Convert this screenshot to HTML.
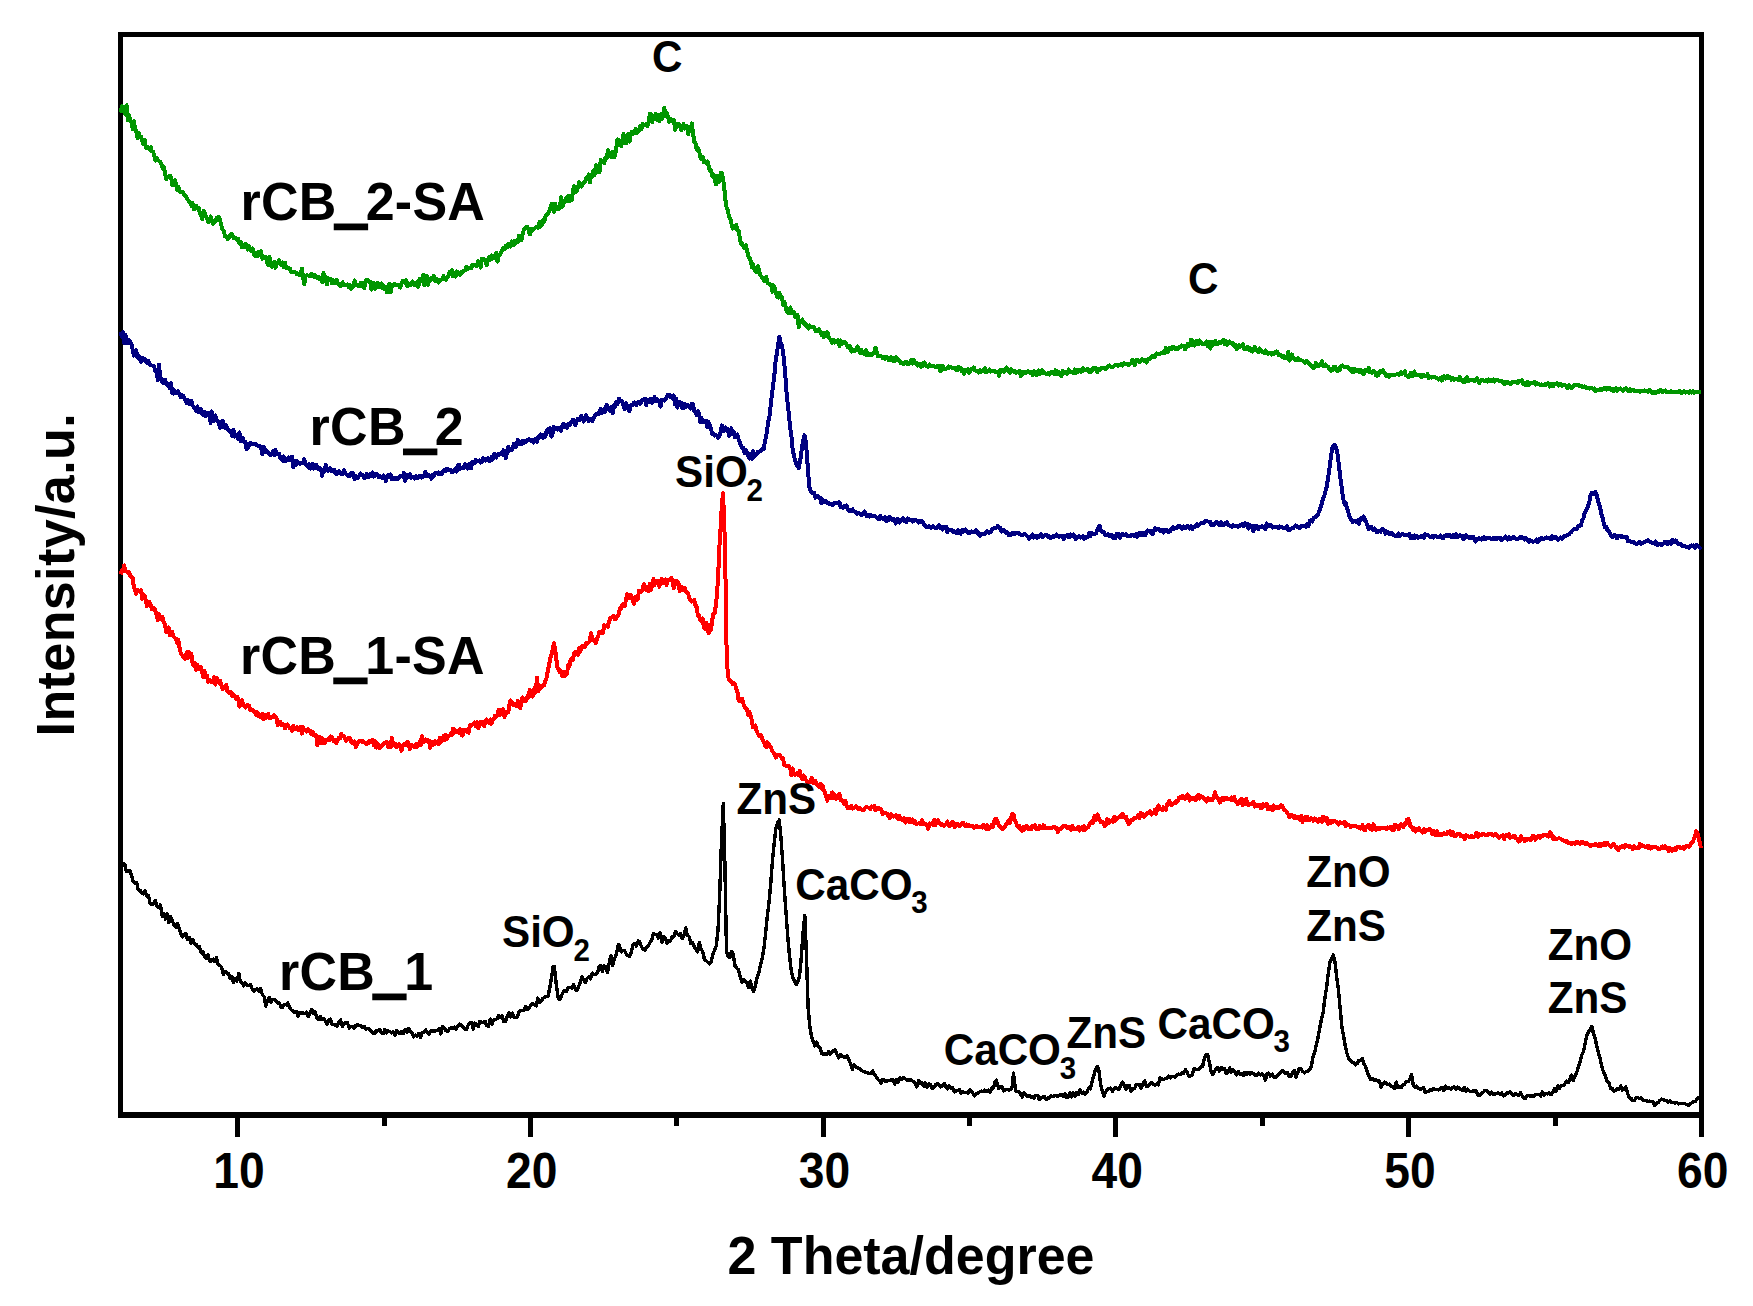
<!DOCTYPE html>
<html><head><meta charset="utf-8"><title>XRD</title>
<style>
html,body{margin:0;padding:0;background:#fff;}
svg{display:block;}
text{font-family:"Liberation Sans",sans-serif;font-weight:bold;fill:#000;}
</style></head>
<body>
<svg width="1753" height="1306" viewBox="0 0 1753 1306">
<rect x="0" y="0" width="1753" height="1306" fill="#fff"/>
<g id="frame" stroke="#000" stroke-width="5" fill="none" shape-rendering="crispEdges">
<path d="M118,32H1704V1118H118Z M123,37V1112H1699V37Z" fill="#000" fill-rule="evenodd" stroke="none"/>
<rect x="235" y="1115" width="5" height="22" fill="#000" stroke="none"/>
<rect x="382" y="1115" width="5" height="11" fill="#000" stroke="none"/>
<rect x="528" y="1115" width="5" height="22" fill="#000" stroke="none"/>
<rect x="674" y="1115" width="5" height="11" fill="#000" stroke="none"/>
<rect x="821" y="1115" width="5" height="22" fill="#000" stroke="none"/>
<rect x="967" y="1115" width="5" height="11" fill="#000" stroke="none"/>
<rect x="1113" y="1115" width="5" height="22" fill="#000" stroke="none"/>
<rect x="1260" y="1115" width="5" height="11" fill="#000" stroke="none"/>
<rect x="1406" y="1115" width="5" height="22" fill="#000" stroke="none"/>
<rect x="1553" y="1115" width="5" height="11" fill="#000" stroke="none"/>
<rect x="1699" y="1115" width="5" height="22" fill="#000" stroke="none"/>
</g>
<g id="curves">
<path d="M121.3,861.6 L123.0,865.5 L124.7,864.1 L126.4,871.4 L128.1,870.9 L129.8,870.3 L131.5,875.4 L133.2,881.3 L134.9,883.4 L136.6,882.3 L138.3,889.9 L140.0,890.1 L141.7,892.8 L143.4,893.8 L145.1,891.1 L146.8,896.4 L148.5,895.9 L150.2,904.0 L151.9,904.0 L153.6,904.0 L155.3,900.3 L157.0,906.2 L158.7,907.5 L160.4,904.9 L162.1,916.0 L163.8,913.5 L165.5,919.1 L167.2,913.8 L168.9,922.7 L170.6,916.6 L172.3,920.2 L174.0,925.7 L175.7,927.0 L177.4,923.4 L179.1,928.1 L180.8,933.4 L182.5,936.8 L184.2,934.2 L185.9,934.0 L187.6,939.5 L189.3,937.4 L191.0,943.3 L192.7,939.5 L194.4,943.7 L196.1,944.3 L197.8,947.4 L199.5,946.9 L201.2,952.9 L202.9,951.3 L204.6,956.5 L206.3,958.7 L208.0,954.5 L209.7,961.2 L211.4,961.2 L213.1,959.2 L214.8,961.5 L216.5,957.5 L218.2,964.5 L219.9,965.5 L221.6,967.1 L223.3,974.5 L225.0,971.4 L226.7,973.0 L228.4,973.4 L230.1,978.1 L231.8,976.6 L233.5,982.5 L235.2,978.5 L236.9,981.0 L238.9,973.2 L240.3,981.8 L242.0,982.6 L243.7,985.8 L245.4,983.0 L247.1,985.8 L248.8,985.4 L250.5,984.6 L252.2,989.1 L253.9,991.4 L255.6,989.5 L257.3,988.9 L259.0,991.2 L260.7,988.4 L262.4,995.0 L264.1,996.5 L265.8,1006.1 L267.5,1000.3 L269.2,997.5 L270.9,1002.3 L272.6,999.3 L274.3,999.5 L276.0,1001.3 L277.7,1002.9 L279.4,1003.0 L281.1,1007.5 L282.8,1007.0 L284.5,1004.4 L286.2,1004.9 L287.9,1003.1 L289.6,1007.3 L291.3,1009.8 L293.0,1011.1 L294.7,1012.5 L296.4,1011.8 L298.1,1016.0 L299.8,1012.5 L301.5,1013.4 L303.2,1013.0 L304.9,1013.5 L306.6,1012.2 L308.3,1016.6 L310.0,1013.2 L311.7,1009.4 L313.4,1013.0 L315.1,1011.7 L316.8,1017.6 L318.5,1019.5 L320.2,1016.4 L321.9,1019.6 L323.6,1018.6 L325.3,1020.8 L327.0,1024.3 L328.7,1020.5 L330.4,1019.2 L332.1,1024.1 L333.8,1024.4 L335.5,1025.1 L337.2,1026.0 L338.9,1022.5 L340.6,1019.9 L342.3,1026.6 L344.0,1023.6 L345.7,1022.2 L347.4,1022.7 L349.1,1027.9 L350.8,1026.2 L352.5,1026.8 L354.2,1028.3 L355.9,1025.4 L357.6,1024.8 L359.3,1025.7 L361.0,1025.5 L362.7,1027.6 L364.4,1026.7 L366.1,1029.0 L367.8,1028.2 L369.5,1029.4 L371.2,1031.3 L372.9,1033.2 L374.6,1033.7 L376.3,1030.7 L378.0,1030.9 L379.7,1029.3 L381.4,1032.5 L383.1,1033.6 L384.8,1029.5 L386.5,1032.8 L388.2,1030.9 L389.9,1031.7 L391.6,1032.9 L393.3,1032.0 L395.0,1035.2 L396.7,1030.6 L398.4,1032.7 L400.1,1033.7 L401.8,1031.3 L403.5,1033.7 L405.2,1029.3 L406.9,1032.1 L408.6,1028.4 L410.3,1031.4 L412.0,1033.1 L413.7,1037.0 L415.4,1035.0 L417.1,1036.4 L418.8,1033.5 L420.5,1037.6 L422.2,1032.5 L423.9,1032.3 L425.6,1029.9 L427.3,1032.9 L429.0,1034.5 L430.7,1030.8 L432.4,1031.1 L434.1,1030.8 L435.8,1030.9 L437.5,1030.2 L439.2,1028.4 L440.9,1033.9 L442.6,1026.4 L444.3,1028.3 L446.0,1030.7 L447.7,1031.7 L449.4,1028.8 L451.1,1028.1 L452.8,1028.3 L454.5,1027.2 L456.2,1029.1 L457.9,1025.7 L459.6,1024.2 L461.3,1025.3 L463.0,1026.5 L464.7,1028.9 L466.4,1029.7 L468.1,1025.4 L469.8,1022.9 L471.5,1022.3 L473.2,1029.2 L474.9,1023.1 L476.6,1024.3 L478.3,1026.7 L480.0,1021.2 L481.7,1022.6 L483.4,1022.1 L485.1,1021.3 L486.8,1025.7 L488.5,1026.6 L490.2,1019.1 L491.9,1024.0 L493.6,1020.1 L495.3,1019.7 L497.0,1018.8 L498.7,1015.3 L500.4,1017.3 L502.1,1015.6 L503.8,1021.7 L505.5,1021.6 L507.2,1016.2 L508.9,1012.6 L510.6,1016.9 L512.3,1013.2 L514.0,1017.3 L515.7,1017.6 L517.4,1016.8 L519.1,1012.0 L520.8,1010.5 L522.5,1010.4 L524.2,1010.0 L525.9,1006.4 L527.6,1009.5 L529.3,1007.4 L531.0,1005.0 L532.7,1003.3 L534.4,1004.8 L536.1,1005.9 L537.8,998.1 L539.5,1002.7 L541.2,1001.2 L542.9,998.3 L544.6,997.2 L546.3,996.3 L548.0,996.6 L549.7,988.3 L551.4,978.6 L553.1,966.9 L554.4,966.7 L556.5,986.1 L558.2,997.7 L559.9,999.8 L561.6,995.3 L563.3,991.7 L565.0,990.5 L566.7,991.3 L568.4,987.4 L570.1,987.3 L571.8,988.0 L573.5,984.8 L575.2,988.9 L576.9,990.6 L578.6,986.6 L580.3,982.3 L582.0,976.5 L583.7,979.7 L585.4,982.3 L587.1,978.4 L588.8,976.8 L590.5,979.1 L592.2,973.1 L593.9,974.8 L595.6,974.4 L597.3,973.3 L599.0,967.1 L600.7,965.5 L602.4,971.7 L604.1,965.8 L605.8,967.0 L607.5,972.7 L609.2,963.0 L610.9,955.8 L612.6,965.5 L614.3,959.1 L616.0,955.4 L618.5,944.3 L619.4,945.5 L621.1,951.9 L622.8,950.4 L624.5,950.7 L626.2,953.9 L627.9,955.5 L629.6,956.4 L631.3,952.5 L633.0,945.2 L634.7,943.3 L636.4,946.2 L638.1,941.1 L639.8,941.9 L641.5,947.0 L643.2,949.1 L644.9,950.1 L646.6,946.9 L648.3,946.2 L650.0,942.4 L651.7,940.7 L653.4,933.3 L655.1,934.3 L656.8,934.9 L658.5,938.1 L660.2,932.7 L661.9,942.4 L663.6,936.3 L665.3,938.5 L667.0,943.5 L668.7,940.3 L670.4,941.1 L672.1,937.0 L673.8,937.0 L675.5,931.4 L677.2,933.9 L678.9,935.1 L680.6,933.3 L682.3,938.6 L684.0,935.5 L685.7,927.9 L687.4,935.4 L689.1,936.5 L690.8,943.5 L692.5,942.9 L694.2,946.7 L695.9,948.7 L697.6,951.9 L699.3,942.5 L701.0,948.5 L702.7,951.9 L704.4,959.1 L706.1,960.7 L707.8,962.3 L709.5,963.9 L711.2,961.8 L712.9,954.5 L714.6,949.9 L716.3,945.9 L718.0,930.2 L719.7,894.3 L721.4,843.7 L723.3,803.3 L724.8,860.4 L726.5,952.0 L728.2,956.4 L729.9,957.4 L731.6,951.3 L733.3,954.5 L735.0,965.8 L736.7,968.2 L738.4,969.8 L740.1,976.2 L741.8,982.2 L743.5,979.5 L745.2,980.7 L746.9,982.7 L748.6,987.3 L750.3,981.2 L752.0,988.0 L753.7,991.7 L755.4,985.3 L757.1,977.8 L758.8,972.8 L760.5,964.9 L762.2,958.0 L763.9,948.5 L765.6,933.4 L767.3,916.4 L769.0,902.2 L770.7,884.4 L772.4,861.3 L774.1,843.7 L775.8,829.0 L777.5,823.1 L779.2,820.0 L780.9,837.0 L782.6,860.6 L784.3,888.9 L786.0,912.5 L787.7,936.1 L789.4,954.6 L791.1,969.7 L792.8,977.4 L794.5,981.0 L796.2,984.7 L797.9,981.5 L799.6,975.7 L801.3,957.3 L803.0,933.2 L804.8,915.2 L806.4,954.3 L808.1,1007.3 L809.8,1026.0 L811.5,1036.1 L813.2,1041.6 L814.9,1045.9 L816.6,1042.2 L818.3,1046.7 L820.0,1047.5 L821.7,1053.6 L823.4,1054.4 L825.1,1053.5 L826.8,1054.5 L828.5,1051.8 L830.2,1053.9 L831.9,1051.7 L833.6,1050.5 L835.3,1049.7 L837.0,1054.7 L838.7,1058.0 L840.4,1054.7 L842.1,1056.1 L843.8,1057.0 L845.5,1057.6 L847.2,1055.9 L848.9,1060.0 L850.6,1063.8 L852.3,1069.4 L854.0,1065.1 L855.7,1066.6 L857.4,1067.8 L859.1,1068.4 L860.8,1070.2 L862.5,1071.1 L864.2,1071.6 L865.9,1072.7 L867.6,1072.9 L869.3,1073.8 L871.0,1073.5 L872.7,1070.9 L874.4,1074.8 L876.1,1076.5 L877.8,1079.3 L879.5,1080.8 L881.2,1083.1 L882.9,1079.3 L884.6,1080.7 L886.3,1081.6 L888.0,1080.2 L889.7,1080.5 L891.4,1080.0 L893.1,1079.6 L894.8,1084.1 L896.5,1079.7 L898.2,1082.1 L899.9,1077.8 L901.6,1079.4 L903.3,1077.3 L905.0,1078.4 L906.7,1080.2 L908.4,1080.1 L910.1,1079.6 L911.8,1080.7 L913.5,1081.5 L915.2,1082.7 L916.9,1086.9 L918.6,1080.4 L920.3,1083.2 L922.0,1082.5 L923.7,1086.3 L925.4,1082.9 L927.1,1086.9 L928.8,1084.0 L930.5,1084.4 L932.2,1088.7 L933.9,1087.9 L935.6,1084.7 L937.3,1083.3 L939.0,1084.6 L940.7,1086.8 L942.4,1085.4 L944.1,1083.4 L945.8,1086.7 L947.5,1088.9 L949.2,1085.6 L950.9,1088.2 L952.6,1087.9 L954.3,1091.8 L956.0,1091.1 L957.7,1090.7 L959.4,1089.5 L961.1,1093.3 L962.8,1091.8 L964.5,1092.6 L966.2,1092.2 L967.9,1093.2 L969.6,1089.9 L971.3,1091.5 L973.0,1093.5 L974.7,1095.9 L976.4,1093.7 L978.1,1093.0 L979.8,1091.7 L981.5,1091.2 L983.2,1091.5 L984.9,1090.1 L986.6,1091.2 L988.3,1090.1 L990.0,1092.3 L991.7,1087.9 L993.4,1088.0 L995.1,1082.1 L996.4,1080.2 L998.5,1088.3 L1000.2,1086.5 L1001.9,1086.4 L1003.6,1090.8 L1005.3,1090.0 L1007.0,1089.2 L1008.7,1090.1 L1010.4,1089.4 L1012.1,1087.6 L1013.5,1073.0 L1015.5,1090.8 L1017.2,1091.3 L1018.9,1091.9 L1020.6,1094.0 L1022.3,1097.1 L1024.0,1093.0 L1025.7,1095.1 L1027.4,1096.7 L1029.1,1095.5 L1030.8,1097.1 L1032.5,1096.3 L1034.2,1098.0 L1035.9,1095.2 L1037.6,1095.2 L1039.3,1099.8 L1041.0,1097.5 L1042.7,1097.2 L1044.4,1096.3 L1046.1,1099.6 L1047.8,1098.0 L1049.5,1097.9 L1051.2,1095.9 L1052.9,1096.7 L1054.6,1095.6 L1056.3,1095.8 L1058.0,1096.2 L1059.7,1095.0 L1061.4,1094.4 L1063.1,1096.7 L1064.8,1093.8 L1066.5,1097.3 L1068.2,1097.4 L1069.9,1092.7 L1071.6,1097.0 L1073.3,1092.9 L1075.0,1095.9 L1076.7,1092.6 L1078.4,1094.3 L1080.1,1089.8 L1081.8,1093.4 L1083.5,1092.1 L1085.2,1094.0 L1086.9,1092.3 L1088.6,1088.2 L1090.3,1088.9 L1092.0,1082.5 L1093.7,1075.7 L1095.4,1069.9 L1097.1,1066.3 L1098.8,1069.8 L1100.5,1083.4 L1102.2,1090.7 L1103.9,1096.2 L1105.6,1092.0 L1107.3,1089.2 L1109.0,1088.5 L1110.7,1088.1 L1112.4,1091.4 L1114.1,1088.6 L1115.8,1087.5 L1117.5,1088.9 L1119.2,1088.9 L1120.9,1084.9 L1122.6,1082.0 L1124.3,1085.8 L1126.0,1088.9 L1127.7,1085.3 L1129.4,1085.7 L1131.1,1091.3 L1132.8,1088.8 L1134.5,1088.5 L1136.2,1084.7 L1137.9,1084.5 L1139.6,1084.9 L1141.3,1088.3 L1143.0,1084.2 L1144.7,1081.0 L1146.4,1086.2 L1148.1,1086.1 L1149.8,1084.6 L1151.5,1082.3 L1153.2,1084.1 L1154.9,1085.4 L1156.6,1084.0 L1158.3,1084.8 L1160.0,1077.8 L1161.7,1078.7 L1163.4,1079.7 L1165.1,1078.5 L1166.8,1078.4 L1168.5,1076.1 L1170.2,1077.9 L1171.9,1076.4 L1173.6,1076.5 L1175.3,1077.2 L1177.0,1074.6 L1178.7,1074.2 L1180.4,1074.4 L1182.1,1072.5 L1183.8,1073.1 L1185.5,1069.7 L1187.2,1072.6 L1188.9,1076.4 L1190.6,1075.7 L1192.3,1074.8 L1194.0,1068.9 L1195.7,1069.2 L1197.4,1069.7 L1199.1,1069.4 L1200.8,1066.9 L1202.5,1066.8 L1204.2,1059.4 L1205.9,1054.5 L1207.6,1054.6 L1209.3,1061.9 L1211.0,1070.8 L1212.7,1074.5 L1214.4,1071.5 L1216.1,1069.1 L1217.8,1067.4 L1219.5,1071.1 L1221.2,1067.5 L1222.9,1069.4 L1224.6,1068.3 L1226.3,1073.7 L1228.0,1071.8 L1229.7,1067.9 L1231.4,1072.2 L1233.1,1069.9 L1234.8,1072.0 L1236.5,1074.9 L1238.2,1071.3 L1239.9,1074.4 L1241.6,1073.9 L1243.3,1075.6 L1245.0,1072.2 L1246.7,1074.6 L1248.4,1072.4 L1250.1,1074.5 L1251.8,1072.5 L1253.5,1073.8 L1255.2,1075.2 L1256.9,1075.0 L1258.6,1073.2 L1260.3,1074.9 L1262.0,1074.0 L1263.7,1075.2 L1265.4,1080.0 L1267.1,1073.7 L1268.8,1073.1 L1270.5,1076.1 L1272.2,1074.2 L1273.9,1077.4 L1275.6,1077.7 L1277.3,1075.4 L1279.0,1073.6 L1280.7,1072.2 L1282.4,1070.8 L1284.1,1071.9 L1285.8,1073.5 L1287.5,1072.4 L1289.2,1076.6 L1290.9,1076.4 L1292.6,1072.9 L1294.3,1070.4 L1296.0,1077.2 L1297.7,1072.7 L1299.4,1068.3 L1301.1,1069.2 L1302.8,1071.5 L1304.5,1072.9 L1306.2,1071.4 L1307.9,1071.0 L1309.6,1069.5 L1311.3,1066.5 L1313.0,1056.8 L1314.7,1052.1 L1316.4,1044.7 L1318.1,1037.1 L1319.8,1027.5 L1321.5,1019.2 L1323.2,1011.8 L1324.9,998.0 L1326.6,987.4 L1328.3,973.1 L1330.0,961.4 L1331.7,958.8 L1333.4,954.9 L1335.1,962.5 L1336.8,977.9 L1338.5,990.4 L1340.2,1008.8 L1341.9,1027.3 L1343.6,1036.0 L1345.3,1046.5 L1347.0,1053.6 L1348.7,1058.3 L1350.4,1060.0 L1352.1,1062.6 L1353.8,1063.0 L1355.5,1064.8 L1357.2,1063.6 L1358.9,1060.3 L1360.6,1060.8 L1362.3,1058.4 L1364.0,1064.2 L1365.7,1066.6 L1367.4,1072.3 L1369.1,1076.4 L1370.8,1079.5 L1372.5,1078.7 L1374.2,1080.8 L1375.9,1079.8 L1377.6,1081.2 L1379.3,1080.9 L1381.0,1087.0 L1382.7,1084.5 L1384.4,1082.1 L1386.1,1083.3 L1387.8,1084.7 L1389.5,1084.0 L1391.2,1086.6 L1392.9,1086.8 L1394.6,1088.6 L1396.3,1082.2 L1398.0,1087.8 L1399.7,1086.6 L1401.4,1087.5 L1403.1,1084.6 L1404.8,1084.0 L1406.5,1081.4 L1408.2,1081.6 L1409.9,1079.0 L1411.6,1074.5 L1413.3,1084.9 L1415.0,1087.5 L1416.7,1086.2 L1418.4,1088.1 L1420.1,1089.1 L1421.8,1088.7 L1423.5,1087.5 L1425.2,1092.4 L1426.9,1091.3 L1428.6,1091.2 L1430.3,1089.4 L1432.0,1090.3 L1433.7,1088.7 L1435.4,1089.3 L1437.1,1089.4 L1438.8,1089.9 L1440.5,1087.9 L1442.2,1087.4 L1443.9,1090.6 L1445.6,1086.1 L1447.3,1088.6 L1449.0,1087.9 L1450.7,1089.2 L1452.4,1087.6 L1454.1,1086.9 L1455.8,1089.1 L1457.5,1087.0 L1459.2,1087.8 L1460.9,1089.7 L1462.6,1090.1 L1464.3,1087.3 L1466.0,1091.5 L1467.7,1089.2 L1469.4,1091.0 L1471.1,1091.6 L1472.8,1090.9 L1474.5,1091.3 L1476.2,1090.7 L1477.9,1095.3 L1479.6,1095.8 L1481.3,1093.2 L1483.0,1092.6 L1484.7,1090.7 L1486.4,1090.4 L1488.1,1092.1 L1489.8,1094.4 L1491.5,1092.2 L1493.2,1094.3 L1494.9,1093.9 L1496.6,1093.6 L1498.3,1092.9 L1500.0,1094.0 L1501.7,1092.9 L1503.4,1095.9 L1505.1,1095.1 L1506.8,1092.6 L1508.5,1092.9 L1510.2,1092.0 L1511.9,1094.5 L1513.6,1095.4 L1515.3,1093.3 L1517.0,1094.2 L1518.7,1095.6 L1520.4,1092.7 L1522.1,1095.8 L1523.8,1098.0 L1525.5,1098.2 L1527.2,1095.5 L1528.9,1095.3 L1530.6,1096.2 L1532.3,1095.7 L1534.0,1096.6 L1535.7,1094.4 L1537.4,1094.3 L1539.1,1094.2 L1540.8,1096.1 L1542.5,1091.9 L1544.2,1095.2 L1545.9,1093.4 L1547.6,1094.0 L1549.3,1092.9 L1551.0,1094.7 L1552.7,1092.8 L1554.4,1088.4 L1556.1,1091.1 L1557.8,1085.7 L1559.5,1088.5 L1561.2,1085.3 L1562.9,1085.7 L1564.6,1084.5 L1566.3,1081.2 L1568.0,1082.8 L1569.7,1080.0 L1571.4,1075.2 L1573.1,1080.8 L1574.8,1076.1 L1576.5,1073.2 L1578.2,1067.7 L1579.9,1062.1 L1581.6,1055.2 L1583.3,1052.0 L1585.0,1044.4 L1586.7,1035.7 L1588.4,1032.1 L1590.1,1029.8 L1591.8,1026.5 L1593.5,1033.5 L1595.2,1038.5 L1596.9,1046.7 L1598.6,1053.1 L1600.3,1059.2 L1602.0,1067.3 L1603.7,1072.5 L1605.4,1075.4 L1607.1,1081.4 L1608.8,1082.1 L1610.5,1088.3 L1612.2,1088.5 L1613.9,1091.0 L1615.6,1090.2 L1617.3,1088.7 L1619.0,1089.6 L1620.7,1085.8 L1622.4,1090.1 L1624.1,1089.2 L1625.8,1086.8 L1627.5,1093.1 L1629.2,1098.0 L1630.9,1098.1 L1632.6,1100.8 L1634.3,1100.7 L1636.0,1097.9 L1637.7,1097.7 L1639.4,1098.5 L1641.1,1098.1 L1642.8,1099.9 L1644.5,1100.7 L1646.2,1100.8 L1647.9,1101.5 L1649.6,1101.1 L1651.3,1101.7 L1653.0,1101.7 L1654.7,1105.4 L1656.4,1103.3 L1658.1,1102.6 L1659.8,1100.6 L1661.5,1099.0 L1663.2,1099.7 L1664.9,1100.4 L1666.6,1100.6 L1668.3,1102.2 L1670.0,1100.9 L1671.7,1102.5 L1673.4,1102.5 L1675.1,1103.1 L1676.8,1102.4 L1678.5,1103.9 L1680.2,1103.4 L1681.9,1103.8 L1683.6,1103.6 L1685.3,1103.9 L1687.0,1104.5 L1688.7,1105.3 L1690.4,1103.8 L1692.1,1102.7 L1693.8,1101.6 L1695.5,1101.3 L1697.2,1098.3 L1698.9,1097.9 L1700.6,1097.0" fill="none" stroke="#000000" stroke-width="3.4" stroke-linejoin="round" stroke-linecap="butt" shape-rendering="crispEdges"/>
<path d="M120.6,574.2 L121.8,570.9 L123.0,570.6 L124.2,565.4 L125.4,570.9 L126.6,571.4 L127.8,572.9 L129.0,572.0 L130.2,575.7 L131.4,577.3 L132.6,577.9 L133.8,586.5 L135.0,589.4 L136.2,593.8 L137.4,590.4 L138.6,590.4 L139.8,591.4 L141.0,589.9 L142.2,598.7 L143.4,594.2 L144.6,595.5 L145.8,599.8 L147.0,606.2 L148.2,604.1 L149.4,601.9 L150.6,604.2 L151.8,609.3 L153.0,608.4 L154.2,608.1 L155.4,611.0 L156.6,615.1 L157.8,620.3 L159.0,613.9 L160.2,617.7 L161.4,619.4 L162.6,617.2 L163.8,622.9 L165.0,624.2 L166.2,631.7 L167.4,629.9 L168.6,627.4 L169.8,635.1 L171.0,633.9 L172.2,631.6 L173.4,636.2 L174.6,637.7 L175.8,638.5 L177.0,642.9 L178.2,639.6 L179.4,646.9 L180.6,652.5 L181.8,654.6 L183.0,656.6 L184.2,657.2 L185.4,658.8 L186.6,652.5 L187.8,658.3 L189.0,651.8 L190.2,655.8 L191.4,654.0 L192.6,663.3 L193.8,665.6 L195.0,663.3 L196.2,669.9 L197.4,664.7 L198.6,668.1 L199.8,669.3 L201.0,667.4 L202.2,672.4 L203.4,677.4 L204.6,671.1 L205.8,677.2 L207.0,675.7 L208.2,681.7 L209.4,679.7 L210.6,681.4 L211.8,682.3 L213.0,681.4 L214.2,677.4 L215.4,684.6 L216.6,677.8 L217.8,682.0 L219.0,683.1 L220.2,680.8 L221.4,685.0 L222.6,689.4 L223.8,688.2 L225.0,687.9 L226.2,684.7 L227.4,691.0 L228.6,692.4 L229.8,693.0 L231.0,692.4 L232.2,696.1 L233.4,694.2 L234.6,695.8 L235.8,698.8 L237.0,696.5 L238.2,699.3 L239.4,706.6 L240.6,704.9 L241.8,700.3 L243.0,703.6 L244.2,705.5 L245.4,707.5 L246.6,705.3 L247.8,704.9 L249.0,705.6 L250.2,710.1 L251.4,710.5 L252.6,709.7 L253.8,711.7 L255.0,712.1 L256.2,715.2 L257.4,712.3 L258.6,716.4 L259.8,716.8 L261.0,716.4 L262.2,713.8 L263.4,719.2 L264.6,715.0 L265.8,717.9 L267.0,715.6 L268.2,713.7 L269.4,718.0 L270.6,718.0 L271.8,716.9 L273.0,717.5 L274.2,715.4 L275.4,716.4 L276.6,718.9 L277.8,724.9 L279.0,723.6 L280.2,721.7 L281.4,725.0 L282.6,723.6 L283.8,724.5 L285.0,728.4 L286.2,726.2 L287.4,724.5 L288.6,726.3 L289.8,728.5 L291.0,728.3 L292.2,730.7 L293.4,726.1 L294.6,729.2 L295.8,728.5 L297.0,727.3 L298.2,730.2 L299.4,729.7 L300.6,727.1 L301.8,733.7 L303.0,727.0 L304.2,730.2 L305.4,730.4 L306.6,731.6 L307.8,729.2 L309.0,731.0 L310.2,730.9 L311.4,734.0 L312.6,731.6 L313.8,735.1 L315.0,736.0 L316.2,735.3 L317.4,745.1 L318.6,739.4 L319.8,736.7 L321.0,743.3 L322.2,738.2 L323.4,741.6 L324.6,743.0 L325.8,739.5 L327.0,739.8 L328.2,739.3 L329.4,739.9 L330.6,736.5 L331.8,737.1 L333.0,739.2 L334.2,741.5 L335.4,740.5 L336.6,742.8 L337.8,740.4 L339.0,737.6 L340.2,738.4 L341.4,734.1 L342.6,736.3 L343.8,736.0 L345.0,739.1 L346.2,740.6 L347.4,738.5 L348.6,739.1 L349.8,737.6 L351.0,741.3 L352.2,742.7 L353.4,743.7 L354.6,741.3 L355.8,747.0 L357.0,745.1 L358.2,742.1 L359.4,740.9 L360.6,741.1 L361.8,741.9 L363.0,741.3 L364.2,742.2 L365.4,742.8 L366.6,744.1 L367.8,743.6 L369.0,740.9 L370.2,742.0 L371.4,740.3 L372.6,739.9 L373.8,745.4 L375.0,741.3 L376.2,747.6 L377.4,743.5 L378.6,745.8 L379.8,748.2 L381.0,745.5 L382.2,745.9 L383.4,744.0 L384.6,743.1 L385.8,743.3 L387.0,741.8 L388.2,746.8 L389.4,743.1 L390.6,747.4 L391.8,738.1 L393.0,744.1 L394.2,745.5 L395.4,743.8 L396.6,747.0 L397.8,746.2 L399.0,744.5 L400.2,745.9 L401.4,750.9 L402.6,745.3 L403.8,745.3 L405.0,743.6 L406.2,744.7 L407.4,741.6 L408.6,743.8 L409.8,749.4 L411.0,746.3 L412.2,745.1 L413.4,745.8 L414.6,747.2 L415.8,744.1 L417.0,747.0 L418.2,744.5 L419.4,742.3 L420.6,745.3 L421.8,736.2 L423.0,740.0 L424.2,741.9 L425.4,739.5 L426.6,741.2 L427.8,740.3 L429.0,740.4 L430.2,747.8 L431.4,743.4 L432.6,741.9 L433.8,744.6 L435.0,741.1 L436.2,743.2 L437.4,741.8 L438.6,744.4 L439.8,737.5 L441.0,742.0 L442.2,740.2 L443.4,736.3 L444.6,740.1 L445.8,734.7 L447.0,739.1 L448.2,735.9 L449.4,735.8 L450.6,734.0 L451.8,735.4 L453.0,728.7 L454.2,732.6 L455.4,730.5 L456.6,732.3 L457.8,731.3 L459.0,732.6 L460.2,729.1 L461.4,734.8 L462.6,735.6 L463.8,729.8 L465.0,730.0 L466.2,730.2 L467.4,731.9 L468.6,732.8 L469.8,725.3 L471.0,726.1 L472.2,724.6 L473.4,724.0 L474.6,722.3 L475.8,726.3 L477.0,722.4 L478.2,728.2 L479.4,726.5 L480.6,721.8 L481.8,721.5 L483.0,722.2 L484.2,726.4 L485.4,721.0 L486.6,719.3 L487.8,722.2 L489.0,722.7 L490.2,719.5 L491.4,723.9 L492.6,719.9 L493.8,719.5 L495.0,715.7 L496.2,716.7 L497.4,715.6 L498.6,709.9 L499.8,715.3 L501.0,709.8 L502.2,713.3 L503.4,709.3 L504.6,716.9 L505.8,712.4 L507.0,713.0 L508.2,712.4 L509.4,704.9 L510.6,700.4 L511.8,702.2 L513.0,705.1 L514.2,703.8 L515.4,705.6 L516.6,706.4 L517.8,701.0 L519.0,704.7 L520.2,708.1 L521.4,701.5 L522.6,697.4 L523.8,701.1 L525.0,699.9 L526.2,701.0 L527.4,696.2 L528.6,697.0 L529.8,689.8 L531.0,695.7 L532.2,696.5 L533.4,695.3 L534.6,688.0 L535.8,692.0 L537.0,677.6 L538.2,691.1 L539.4,689.7 L540.6,685.6 L541.8,687.1 L543.0,684.8 L544.2,685.0 L545.4,680.9 L546.6,677.9 L547.8,670.7 L549.0,665.5 L550.2,658.4 L551.4,655.0 L552.6,649.3 L554.0,643.1 L555.0,648.2 L556.2,657.6 L557.4,668.0 L558.6,668.7 L559.8,672.2 L561.0,671.0 L562.2,676.3 L563.4,672.2 L564.6,676.1 L565.8,671.7 L567.0,673.8 L568.2,664.8 L569.4,666.0 L570.6,660.0 L571.8,658.2 L573.0,660.0 L574.2,653.2 L575.4,652.0 L576.6,652.2 L577.8,654.8 L579.0,648.1 L580.2,652.0 L581.4,646.9 L582.6,645.9 L583.8,646.5 L585.0,647.2 L586.2,643.4 L587.4,642.5 L588.6,642.5 L589.8,640.7 L591.0,633.3 L592.2,638.6 L593.4,639.3 L594.6,641.3 L595.8,643.1 L597.0,638.6 L598.2,636.1 L599.4,631.6 L600.6,632.9 L601.8,633.2 L603.0,632.9 L604.2,625.3 L605.4,626.2 L606.6,625.7 L607.8,626.7 L609.0,621.5 L610.2,618.5 L611.4,617.3 L612.6,617.5 L613.8,615.9 L615.0,619.3 L616.2,618.6 L617.4,615.5 L618.6,614.8 L619.8,608.3 L621.0,608.6 L622.2,604.7 L623.4,604.3 L624.6,606.1 L625.8,600.9 L627.0,594.1 L628.2,598.4 L629.4,597.1 L630.6,594.8 L631.8,596.8 L633.0,601.9 L634.2,604.0 L635.4,597.2 L636.6,599.9 L637.8,598.9 L639.0,590.5 L640.2,592.1 L641.4,590.8 L642.6,590.4 L643.8,584.2 L645.0,586.9 L646.2,590.0 L647.4,589.8 L648.6,590.9 L649.8,583.9 L651.0,589.8 L652.2,585.7 L653.4,579.1 L654.6,584.8 L655.8,581.0 L657.0,583.0 L658.2,580.7 L659.4,586.9 L660.6,580.7 L661.8,578.9 L663.0,582.9 L664.2,581.2 L665.4,579.5 L666.6,584.9 L667.8,580.2 L669.0,579.9 L670.2,580.4 L671.4,578.0 L672.6,581.0 L673.8,588.4 L675.0,580.6 L676.2,583.7 L677.4,581.4 L678.6,583.8 L679.8,591.1 L681.0,590.3 L682.2,587.0 L683.4,590.4 L684.6,587.7 L685.8,591.3 L687.0,592.5 L688.2,594.0 L689.4,598.8 L690.6,600.8 L691.8,601.6 L693.0,600.9 L694.2,599.7 L695.4,605.8 L696.6,606.2 L697.8,615.2 L699.0,615.7 L700.2,620.1 L701.4,621.6 L702.6,618.4 L703.8,627.0 L705.0,628.6 L706.2,622.9 L707.4,629.3 L708.6,633.1 L709.8,624.9 L711.0,629.9 L712.2,620.4 L713.4,613.8 L714.6,613.3 L715.8,605.6 L717.0,594.6 L718.2,574.8 L719.4,546.8 L720.6,527.5 L721.8,506.2 L722.9,493.3 L724.2,518.3 L725.4,570.7 L726.6,650.0 L727.8,674.5 L729.0,680.2 L730.2,681.0 L731.4,681.8 L732.6,683.8 L733.8,682.7 L735.0,684.0 L736.2,688.8 L737.4,691.7 L738.6,700.9 L739.8,701.4 L741.0,699.4 L742.2,699.0 L743.4,703.5 L744.6,707.3 L745.8,708.3 L747.0,708.9 L748.2,715.3 L749.4,711.7 L750.6,715.2 L751.8,720.5 L753.0,727.3 L754.2,725.9 L755.4,725.4 L756.6,731.1 L757.8,733.6 L759.0,736.0 L760.2,734.9 L761.4,735.8 L762.6,739.6 L763.8,741.8 L765.0,745.3 L766.2,747.4 L767.4,742.3 L768.6,743.8 L769.8,746.1 L771.0,747.5 L772.2,750.9 L773.4,752.7 L774.6,754.0 L775.8,757.6 L777.0,755.5 L778.2,754.6 L779.4,754.6 L780.6,756.7 L781.8,758.1 L783.0,758.0 L784.2,764.7 L785.4,765.4 L786.6,765.8 L787.8,766.1 L789.0,766.0 L790.2,768.5 L791.4,775.1 L792.6,768.4 L793.8,773.3 L795.0,774.6 L796.2,773.6 L797.4,773.0 L798.6,775.3 L799.8,770.9 L801.0,776.7 L802.2,779.2 L803.4,775.4 L804.6,776.7 L805.8,779.7 L807.0,781.7 L808.2,782.8 L809.4,782.0 L810.6,780.0 L811.8,777.9 L813.0,782.6 L814.2,783.3 L815.4,781.1 L816.6,783.9 L817.8,785.0 L819.0,786.9 L820.2,783.9 L821.4,788.5 L822.6,785.5 L823.8,790.4 L825.0,792.8 L826.2,797.1 L827.4,800.7 L828.6,795.7 L829.8,796.6 L831.0,798.0 L832.2,792.4 L833.4,798.4 L834.6,794.5 L835.8,798.8 L837.0,797.8 L838.2,795.4 L839.4,794.1 L840.6,800.3 L841.8,799.8 L843.0,801.5 L844.2,803.8 L845.4,801.1 L846.6,805.9 L847.8,808.1 L849.0,808.2 L850.2,808.1 L851.4,806.1 L852.6,808.6 L853.8,807.7 L855.0,807.3 L856.2,806.2 L857.4,808.4 L858.6,809.2 L859.8,807.9 L861.0,808.9 L862.2,809.8 L863.4,810.4 L864.6,808.3 L865.8,807.5 L867.0,807.0 L868.2,807.6 L869.4,808.3 L870.6,808.8 L871.8,806.4 L873.0,807.5 L874.2,805.9 L875.4,810.0 L876.6,807.8 L877.8,809.4 L879.0,808.1 L880.2,809.3 L881.4,809.5 L882.6,814.3 L883.8,813.1 L885.0,813.3 L886.2,813.1 L887.4,814.1 L888.6,816.3 L889.8,818.4 L891.0,813.9 L892.2,815.1 L893.4,816.6 L894.6,816.3 L895.8,815.1 L897.0,817.8 L898.2,819.1 L899.4,815.7 L900.6,818.6 L901.8,819.9 L903.0,820.0 L904.2,818.1 L905.4,822.6 L906.6,820.4 L907.8,818.7 L909.0,821.8 L910.2,819.1 L911.4,822.4 L912.6,819.5 L913.8,822.8 L915.0,821.1 L916.2,823.9 L917.4,823.6 L918.6,823.3 L919.8,822.9 L921.0,824.5 L922.2,820.4 L923.4,823.8 L924.6,823.9 L925.8,824.2 L927.0,824.7 L928.2,828.9 L929.4,823.5 L930.6,824.4 L931.8,823.3 L933.0,825.2 L934.2,819.8 L935.4,825.1 L936.6,822.0 L937.8,820.2 L939.0,822.3 L940.2,823.8 L941.4,824.8 L942.6,824.5 L943.8,825.7 L945.0,824.5 L946.2,824.5 L947.4,821.5 L948.6,825.3 L949.8,826.0 L951.0,824.0 L952.2,822.0 L953.4,822.9 L954.6,827.4 L955.8,824.3 L957.0,824.4 L958.2,824.3 L959.4,826.4 L960.6,824.4 L961.8,823.9 L963.0,822.8 L964.2,824.7 L965.4,826.1 L966.6,824.4 L967.8,826.1 L969.0,825.4 L970.2,825.7 L971.4,826.0 L972.6,826.1 L973.8,827.8 L975.0,827.2 L976.2,825.8 L977.4,826.9 L978.6,826.7 L979.8,827.5 L981.0,827.2 L982.2,827.6 L983.4,825.0 L984.6,827.6 L985.8,829.0 L987.0,825.3 L988.2,829.5 L989.4,827.8 L990.6,827.1 L991.8,825.0 L993.0,826.7 L994.2,821.6 L995.4,818.9 L996.6,819.2 L997.8,822.4 L999.0,826.2 L1000.2,826.2 L1001.4,828.0 L1002.6,829.3 L1003.8,827.7 L1005.0,826.3 L1006.2,823.8 L1007.4,823.1 L1008.6,820.5 L1009.8,822.9 L1011.0,818.7 L1012.2,813.8 L1013.8,814.8 L1014.6,820.2 L1015.8,821.8 L1017.0,825.3 L1018.2,827.2 L1019.4,825.8 L1020.6,829.6 L1021.8,830.8 L1023.0,827.3 L1024.2,830.0 L1025.4,827.2 L1026.6,826.0 L1027.8,828.8 L1029.0,828.8 L1030.2,827.5 L1031.4,829.4 L1032.6,826.1 L1033.8,826.9 L1035.0,825.3 L1036.2,828.9 L1037.4,828.9 L1038.6,829.3 L1039.8,825.7 L1041.0,827.7 L1042.2,828.1 L1043.4,825.2 L1044.6,826.3 L1045.8,828.4 L1047.0,828.5 L1048.2,827.8 L1049.4,828.2 L1050.6,827.9 L1051.8,827.7 L1053.0,827.5 L1054.2,826.7 L1055.4,827.9 L1056.6,828.0 L1057.8,832.0 L1059.0,829.5 L1060.2,829.2 L1061.4,827.9 L1062.6,827.1 L1063.8,826.0 L1065.0,826.4 L1066.2,826.3 L1067.4,828.2 L1068.6,826.8 L1069.8,828.9 L1071.0,829.8 L1072.2,825.9 L1073.4,829.1 L1074.6,829.4 L1075.8,828.7 L1077.0,828.7 L1078.2,826.8 L1079.4,830.7 L1080.6,827.7 L1081.8,827.2 L1083.0,829.6 L1084.2,826.0 L1085.4,829.7 L1086.6,828.2 L1087.8,827.6 L1089.0,825.8 L1090.2,823.5 L1091.4,821.4 L1092.6,823.4 L1093.8,818.1 L1095.0,815.7 L1096.2,819.9 L1097.4,814.4 L1098.6,817.4 L1099.8,819.9 L1101.0,822.4 L1102.2,821.7 L1103.4,823.0 L1104.6,826.2 L1105.8,825.2 L1107.0,819.1 L1108.2,820.0 L1109.4,822.8 L1110.6,821.5 L1111.8,820.5 L1113.0,822.0 L1114.2,816.9 L1115.4,820.6 L1116.6,818.2 L1117.8,818.1 L1119.0,816.9 L1120.2,817.2 L1121.4,814.9 L1122.6,814.0 L1123.8,817.3 L1125.0,817.8 L1126.2,816.6 L1127.4,821.7 L1128.6,823.8 L1129.8,822.5 L1131.0,820.3 L1132.2,820.5 L1133.4,819.2 L1134.6,817.8 L1135.8,818.1 L1137.0,817.1 L1138.2,814.7 L1139.4,818.4 L1140.6,812.9 L1141.8,814.0 L1143.0,814.1 L1144.2,817.0 L1145.4,814.4 L1146.6,814.0 L1147.8,812.7 L1149.0,812.5 L1150.2,811.3 L1151.4,814.5 L1152.6,813.2 L1153.8,813.0 L1155.0,809.6 L1156.2,813.9 L1157.4,807.4 L1158.6,805.6 L1159.8,808.4 L1161.0,809.1 L1162.2,810.1 L1163.4,807.2 L1164.6,808.9 L1165.8,809.8 L1167.0,804.6 L1168.2,802.7 L1169.4,801.1 L1170.6,803.8 L1171.8,805.4 L1173.0,803.5 L1174.2,803.0 L1175.4,803.4 L1176.6,800.6 L1177.8,801.4 L1179.0,797.5 L1180.2,797.2 L1181.4,798.4 L1182.6,796.0 L1183.8,797.8 L1185.0,798.6 L1186.2,796.3 L1187.4,794.4 L1188.6,795.6 L1189.8,800.5 L1191.0,797.7 L1192.2,799.1 L1193.4,797.9 L1194.6,798.6 L1195.8,800.2 L1197.0,797.0 L1198.2,794.6 L1199.4,798.7 L1200.6,795.6 L1201.8,797.3 L1203.0,796.8 L1204.2,799.0 L1205.4,800.6 L1206.6,801.5 L1207.8,798.3 L1209.0,798.5 L1210.2,799.8 L1211.4,799.5 L1212.6,799.8 L1213.8,796.4 L1215.0,792.4 L1216.2,796.0 L1217.4,798.1 L1218.6,799.3 L1219.8,802.6 L1221.0,801.1 L1222.2,798.4 L1223.4,800.2 L1224.6,797.7 L1225.8,799.4 L1227.0,798.1 L1228.2,799.1 L1229.4,799.3 L1230.6,799.6 L1231.8,797.5 L1233.0,800.3 L1234.2,796.5 L1235.4,801.4 L1236.6,802.4 L1237.8,804.3 L1239.0,801.6 L1240.2,800.0 L1241.4,798.8 L1242.6,805.1 L1243.8,799.7 L1245.0,803.9 L1246.2,798.8 L1247.4,802.9 L1248.6,805.4 L1249.8,804.2 L1251.0,803.8 L1252.2,802.8 L1253.4,801.8 L1254.6,806.5 L1255.8,805.9 L1257.0,805.3 L1258.2,806.3 L1259.4,804.8 L1260.6,808.4 L1261.8,808.5 L1263.0,804.2 L1264.2,804.8 L1265.4,806.0 L1266.6,804.0 L1267.8,809.2 L1269.0,809.1 L1270.2,807.0 L1271.4,809.5 L1272.6,810.4 L1273.8,805.5 L1275.0,808.4 L1276.2,807.0 L1277.4,806.7 L1278.6,808.1 L1279.8,806.5 L1281.0,805.4 L1282.2,805.8 L1283.4,808.5 L1284.6,810.0 L1285.8,810.7 L1287.0,812.3 L1288.2,814.3 L1289.4,817.1 L1290.6,816.3 L1291.8,814.7 L1293.0,815.8 L1294.2,818.5 L1295.4,816.2 L1296.6,817.0 L1297.8,818.0 L1299.0,816.8 L1300.2,820.3 L1301.4,816.1 L1302.6,821.8 L1303.8,818.9 L1305.0,817.5 L1306.2,819.8 L1307.4,816.7 L1308.6,820.0 L1309.8,820.2 L1311.0,818.3 L1312.2,818.6 L1313.4,820.7 L1314.6,818.4 L1315.8,819.5 L1317.0,820.1 L1318.2,822.0 L1319.4,819.1 L1320.6,820.0 L1321.8,821.8 L1323.0,816.5 L1324.2,820.0 L1325.4,817.7 L1326.6,818.0 L1327.8,823.8 L1329.0,821.4 L1330.2,823.4 L1331.4,821.0 L1332.6,822.3 L1333.8,821.0 L1335.0,821.0 L1336.2,821.8 L1337.4,822.3 L1338.6,824.5 L1339.8,822.1 L1341.0,823.1 L1342.2,822.6 L1343.4,823.6 L1344.6,821.9 L1345.8,825.9 L1347.0,824.0 L1348.2,825.2 L1349.4,825.2 L1350.6,826.9 L1351.8,826.2 L1353.0,825.5 L1354.2,825.7 L1355.4,826.0 L1356.6,826.6 L1357.8,826.5 L1359.0,827.9 L1360.2,828.6 L1361.4,827.5 L1362.6,825.1 L1363.8,829.7 L1365.0,830.5 L1366.2,826.9 L1367.4,826.9 L1368.6,824.6 L1369.8,828.5 L1371.0,826.0 L1372.2,830.0 L1373.4,824.2 L1374.6,828.0 L1375.8,829.8 L1377.0,827.8 L1378.2,827.5 L1379.4,829.1 L1380.6,828.1 L1381.8,828.2 L1383.0,828.5 L1384.2,827.6 L1385.4,827.9 L1386.6,829.2 L1387.8,827.4 L1389.0,828.3 L1390.2,827.2 L1391.4,829.6 L1392.6,826.7 L1393.8,830.0 L1395.0,824.6 L1396.2,827.3 L1397.4,825.8 L1398.6,828.8 L1399.8,827.2 L1401.0,824.3 L1402.2,824.8 L1403.4,826.9 L1404.6,823.9 L1405.8,823.8 L1407.0,819.8 L1408.2,818.7 L1409.4,821.3 L1410.6,826.8 L1411.8,827.0 L1413.0,829.9 L1414.2,828.1 L1415.4,831.5 L1416.6,829.5 L1417.8,829.9 L1419.0,828.3 L1420.2,830.2 L1421.4,831.1 L1422.6,832.7 L1423.8,829.2 L1425.0,832.1 L1426.2,830.3 L1427.4,830.4 L1428.6,829.5 L1429.8,828.9 L1431.0,830.1 L1432.2,834.3 L1433.4,831.1 L1434.6,832.5 L1435.8,835.0 L1437.0,831.3 L1438.2,835.1 L1439.4,833.9 L1440.6,834.5 L1441.8,835.2 L1443.0,833.6 L1444.2,833.0 L1445.4,834.3 L1446.6,833.9 L1447.8,831.9 L1449.0,832.6 L1450.2,831.3 L1451.4,835.0 L1452.6,832.0 L1453.8,834.1 L1455.0,836.3 L1456.2,835.3 L1457.4,834.2 L1458.6,833.9 L1459.8,834.2 L1461.0,836.4 L1462.2,835.9 L1463.4,835.8 L1464.6,839.3 L1465.8,835.2 L1467.0,835.9 L1468.2,836.2 L1469.4,836.8 L1470.6,836.8 L1471.8,835.9 L1473.0,837.1 L1474.2,836.7 L1475.4,835.5 L1476.6,832.7 L1477.8,836.7 L1479.0,834.4 L1480.2,834.6 L1481.4,835.2 L1482.6,833.7 L1483.8,834.1 L1485.0,835.1 L1486.2,834.5 L1487.4,835.2 L1488.6,833.6 L1489.8,834.4 L1491.0,833.6 L1492.2,834.8 L1493.4,835.7 L1494.6,835.2 L1495.8,833.9 L1497.0,835.7 L1498.2,836.3 L1499.4,837.7 L1500.6,836.5 L1501.8,836.1 L1503.0,835.1 L1504.2,839.1 L1505.4,835.4 L1506.6,835.2 L1507.8,836.4 L1509.0,834.3 L1510.2,837.9 L1511.4,836.8 L1512.6,837.2 L1513.8,835.6 L1515.0,836.5 L1516.2,838.5 L1517.4,838.9 L1518.6,841.5 L1519.8,840.7 L1521.0,836.4 L1522.2,839.1 L1523.4,838.8 L1524.6,840.8 L1525.8,839.2 L1527.0,839.7 L1528.2,838.6 L1529.4,839.5 L1530.6,840.3 L1531.8,837.6 L1533.0,835.7 L1534.2,836.7 L1535.4,839.7 L1536.6,837.8 L1537.8,836.9 L1539.0,835.7 L1540.2,837.9 L1541.4,836.7 L1542.6,835.9 L1543.8,835.0 L1545.0,835.3 L1546.2,834.9 L1547.4,835.9 L1548.6,836.6 L1549.8,832.3 L1551.0,833.1 L1552.2,836.8 L1553.4,839.0 L1554.6,837.6 L1555.8,838.6 L1557.0,838.7 L1558.2,838.5 L1559.4,838.3 L1560.6,838.6 L1561.8,839.8 L1563.0,840.4 L1564.2,841.0 L1565.4,841.6 L1566.6,841.1 L1567.8,842.0 L1569.0,843.5 L1570.2,843.0 L1571.4,843.9 L1572.6,843.4 L1573.8,843.4 L1575.0,843.9 L1576.2,841.7 L1577.4,843.1 L1578.6,842.5 L1579.8,844.0 L1581.0,842.2 L1582.2,843.0 L1583.4,842.2 L1584.6,843.1 L1585.8,844.2 L1587.0,843.3 L1588.2,844.2 L1589.4,844.9 L1590.6,846.1 L1591.8,845.0 L1593.0,845.3 L1594.2,844.8 L1595.4,844.1 L1596.6,845.2 L1597.8,845.7 L1599.0,844.0 L1600.2,846.4 L1601.4,843.9 L1602.6,845.4 L1603.8,844.9 L1605.0,842.7 L1606.2,844.6 L1607.4,843.1 L1608.6,844.7 L1609.8,845.7 L1611.0,847.0 L1612.2,846.0 L1613.4,843.8 L1614.6,845.2 L1615.8,847.6 L1617.0,846.9 L1618.2,850.2 L1619.4,847.4 L1620.6,847.7 L1621.8,846.4 L1623.0,846.6 L1624.2,847.6 L1625.4,844.8 L1626.6,846.4 L1627.8,846.3 L1629.0,846.9 L1630.2,846.2 L1631.4,846.8 L1632.6,849.0 L1633.8,846.2 L1635.0,847.9 L1636.2,848.5 L1637.4,847.4 L1638.6,848.4 L1639.8,844.0 L1641.0,846.4 L1642.2,845.4 L1643.4,846.0 L1644.6,846.5 L1645.8,847.3 L1647.0,846.3 L1648.2,848.1 L1649.4,846.2 L1650.6,848.6 L1651.8,847.6 L1653.0,846.8 L1654.2,846.9 L1655.4,846.9 L1656.6,847.5 L1657.8,848.4 L1659.0,849.4 L1660.2,849.0 L1661.4,847.3 L1662.6,846.5 L1663.8,848.2 L1665.0,846.4 L1666.2,848.5 L1667.4,848.2 L1668.6,850.9 L1669.8,847.6 L1671.0,849.4 L1672.2,850.7 L1673.4,848.9 L1674.6,848.3 L1675.8,850.1 L1677.0,846.8 L1678.2,846.9 L1679.4,847.0 L1680.6,848.1 L1681.8,848.2 L1683.0,847.1 L1684.2,849.0 L1685.4,846.4 L1686.6,846.3 L1687.8,845.7 L1689.0,847.0 L1690.2,845.4 L1691.4,842.9 L1692.6,842.4 L1693.8,839.3 L1695.0,836.5 L1696.2,831.1 L1697.4,832.7 L1698.6,837.9 L1699.8,842.7 L1701.0,848.1" fill="none" stroke="#ff0000" stroke-width="4.0" stroke-linejoin="round" stroke-linecap="butt" shape-rendering="crispEdges"/>
<path d="M120.6,331.7 L121.8,336.6 L123.0,331.9 L124.2,343.0 L125.4,334.8 L126.6,338.2 L127.8,342.9 L129.0,339.9 L130.2,342.0 L131.4,344.0 L132.6,349.4 L133.8,355.7 L135.0,351.5 L136.2,350.3 L137.4,357.6 L138.6,355.3 L139.8,358.1 L141.0,361.9 L142.2,357.7 L143.4,360.3 L144.6,358.8 L145.8,361.4 L147.0,363.1 L148.2,360.7 L149.4,363.3 L150.6,365.1 L151.8,365.5 L153.0,365.6 L154.2,366.6 L155.4,371.3 L156.6,372.5 L157.8,380.0 L159.0,364.7 L160.2,377.1 L161.4,378.9 L162.6,382.6 L163.8,382.7 L165.0,379.5 L166.2,382.8 L167.4,385.3 L168.6,384.5 L169.8,388.3 L171.0,383.1 L172.2,393.0 L173.4,393.6 L174.6,390.3 L175.8,393.4 L177.0,392.8 L178.2,391.4 L179.4,394.4 L180.6,397.3 L181.8,394.7 L183.0,395.8 L184.2,397.7 L185.4,400.1 L186.6,403.3 L187.8,400.0 L189.0,403.9 L190.2,404.4 L191.4,400.8 L192.6,405.3 L193.8,407.2 L195.0,408.6 L196.2,410.6 L197.4,406.4 L198.6,411.9 L199.8,410.6 L201.0,409.2 L202.2,414.1 L203.4,414.9 L204.6,412.1 L205.8,415.9 L207.0,413.4 L208.2,415.0 L209.4,413.2 L210.6,423.0 L211.8,411.4 L213.0,418.0 L214.2,420.6 L215.4,415.4 L216.6,420.3 L217.8,421.3 L219.0,424.0 L220.2,427.7 L221.4,422.4 L222.6,420.8 L223.8,427.5 L225.0,427.8 L226.2,425.4 L227.4,428.6 L228.6,430.0 L229.8,431.8 L231.0,432.4 L232.2,435.8 L233.4,429.8 L234.6,436.5 L235.8,435.8 L237.0,435.3 L238.2,439.0 L239.4,432.4 L240.6,440.9 L241.8,440.3 L243.0,438.2 L244.2,442.5 L245.4,442.0 L246.6,449.1 L247.8,447.8 L249.0,445.2 L250.2,443.0 L251.4,443.5 L252.6,444.3 L253.8,444.0 L255.0,443.6 L256.2,444.5 L257.4,445.7 L258.6,446.0 L259.8,446.3 L261.0,446.5 L262.2,454.4 L263.4,446.9 L264.6,448.5 L265.8,452.2 L267.0,451.1 L268.2,452.8 L269.4,453.8 L270.6,455.0 L271.8,454.2 L273.0,450.9 L274.2,455.4 L275.4,449.9 L276.6,453.8 L277.8,453.9 L279.0,453.7 L280.2,457.9 L281.4,457.2 L282.6,460.5 L283.8,456.5 L285.0,461.3 L286.2,460.8 L287.4,460.2 L288.6,457.4 L289.8,459.9 L291.0,457.6 L292.2,456.7 L293.4,467.4 L294.6,463.1 L295.8,464.9 L297.0,460.8 L298.2,463.3 L299.4,463.5 L300.6,463.5 L301.8,462.6 L303.0,462.4 L304.2,459.1 L305.4,464.5 L306.6,464.7 L307.8,466.5 L309.0,464.3 L310.2,468.6 L311.4,464.9 L312.6,463.8 L313.8,468.5 L315.0,466.3 L316.2,464.9 L317.4,467.7 L318.6,469.0 L319.8,468.1 L321.0,468.8 L322.2,475.8 L323.4,469.6 L324.6,471.1 L325.8,464.7 L327.0,469.5 L328.2,470.7 L329.4,468.3 L330.6,468.3 L331.8,471.0 L333.0,469.6 L334.2,469.9 L335.4,473.4 L336.6,474.0 L337.8,472.3 L339.0,471.1 L340.2,473.2 L341.4,474.0 L342.6,473.9 L343.8,470.2 L345.0,472.6 L346.2,474.3 L347.4,475.1 L348.6,476.1 L349.8,476.1 L351.0,473.0 L352.2,473.1 L353.4,473.5 L354.6,479.3 L355.8,476.3 L357.0,476.9 L358.2,477.7 L359.4,475.2 L360.6,473.6 L361.8,474.9 L363.0,475.4 L364.2,478.4 L365.4,477.3 L366.6,473.7 L367.8,477.0 L369.0,477.2 L370.2,473.9 L371.4,475.7 L372.6,472.5 L373.8,476.6 L375.0,475.6 L376.2,473.8 L377.4,475.1 L378.6,476.9 L379.8,475.6 L381.0,477.3 L382.2,477.9 L383.4,475.4 L384.6,476.4 L385.8,480.9 L387.0,477.2 L388.2,475.4 L389.4,477.1 L390.6,474.5 L391.8,479.1 L393.0,477.7 L394.2,479.0 L395.4,478.8 L396.6,477.9 L397.8,479.0 L399.0,477.7 L400.2,476.2 L401.4,475.6 L402.6,476.7 L403.8,473.0 L405.0,481.0 L406.2,474.5 L407.4,477.6 L408.6,475.4 L409.8,474.1 L411.0,477.7 L412.2,477.4 L413.4,477.5 L414.6,478.6 L415.8,476.3 L417.0,478.0 L418.2,478.0 L419.4,475.8 L420.6,476.2 L421.8,477.5 L423.0,476.4 L424.2,476.4 L425.4,471.6 L426.6,475.9 L427.8,476.3 L429.0,475.2 L430.2,475.9 L431.4,478.7 L432.6,475.2 L433.8,476.2 L435.0,473.3 L436.2,473.2 L437.4,473.7 L438.6,472.6 L439.8,474.4 L441.0,472.6 L442.2,473.7 L443.4,470.9 L444.6,470.0 L445.8,471.3 L447.0,468.5 L448.2,470.3 L449.4,469.9 L450.6,469.9 L451.8,472.1 L453.0,472.2 L454.2,470.6 L455.4,468.4 L456.6,471.7 L457.8,465.7 L459.0,464.6 L460.2,468.8 L461.4,468.1 L462.6,467.6 L463.8,467.7 L465.0,464.3 L466.2,464.7 L467.4,468.7 L468.6,467.7 L469.8,463.7 L471.0,468.3 L472.2,461.8 L473.4,462.2 L474.6,463.3 L475.8,459.8 L477.0,460.6 L478.2,461.0 L479.4,460.4 L480.6,462.7 L481.8,461.9 L483.0,458.4 L484.2,459.0 L485.4,460.5 L486.6,459.8 L487.8,458.2 L489.0,461.0 L490.2,460.6 L491.4,457.2 L492.6,459.6 L493.8,454.3 L495.0,453.8 L496.2,457.6 L497.4,454.4 L498.6,453.6 L499.8,454.5 L501.0,453.0 L502.2,454.5 L503.4,450.2 L504.6,451.8 L505.8,458.4 L507.0,451.6 L508.2,446.8 L509.4,450.8 L510.6,449.5 L511.8,450.0 L513.0,446.2 L514.2,443.5 L515.4,447.3 L516.6,445.4 L517.8,439.7 L519.0,444.5 L520.2,442.0 L521.4,444.3 L522.6,440.7 L523.8,442.7 L525.0,441.2 L526.2,441.8 L527.4,440.3 L528.6,439.2 L529.8,440.0 L531.0,441.0 L532.2,440.3 L533.4,442.6 L534.6,439.5 L535.8,439.3 L537.0,441.9 L538.2,436.9 L539.4,437.3 L540.6,434.3 L541.8,435.1 L543.0,437.9 L544.2,434.5 L545.4,436.5 L546.6,430.5 L547.8,429.3 L549.0,432.5 L550.2,428.4 L551.4,436.7 L552.6,433.1 L553.8,427.1 L555.0,429.0 L556.2,427.7 L557.4,429.5 L558.6,428.0 L559.8,429.8 L561.0,430.6 L562.2,426.5 L563.4,424.0 L564.6,427.4 L565.8,425.4 L567.0,427.7 L568.2,424.0 L569.4,425.3 L570.6,423.3 L571.8,421.2 L573.0,419.7 L574.2,421.4 L575.4,425.1 L576.6,421.1 L577.8,418.8 L579.0,420.4 L580.2,418.9 L581.4,415.6 L582.6,418.9 L583.8,421.5 L585.0,417.1 L586.2,415.1 L587.4,418.4 L588.6,421.1 L589.8,418.7 L591.0,418.5 L592.2,421.1 L593.4,419.2 L594.6,416.7 L595.8,414.3 L597.0,414.2 L598.2,412.6 L599.4,413.8 L600.6,408.8 L601.8,413.4 L603.0,410.2 L604.2,408.9 L605.4,411.7 L606.6,405.1 L607.8,407.9 L609.0,408.3 L610.2,411.3 L611.4,407.2 L612.6,413.3 L613.8,405.3 L615.0,406.6 L616.2,402.0 L617.4,404.1 L619.0,398.5 L619.8,401.1 L621.0,400.8 L622.2,401.5 L623.4,405.4 L624.6,409.3 L625.8,403.3 L627.0,404.8 L628.2,408.5 L629.4,411.3 L630.6,405.5 L631.8,405.1 L633.0,405.2 L634.2,402.4 L635.4,402.7 L636.6,404.8 L637.8,402.1 L639.0,401.9 L640.2,403.8 L641.4,401.9 L642.6,399.8 L643.8,399.3 L645.0,398.5 L646.2,405.2 L647.4,400.1 L648.6,401.7 L649.8,402.4 L651.0,398.8 L652.2,402.8 L653.4,400.4 L654.6,397.1 L655.8,401.0 L657.0,399.2 L658.2,400.8 L659.4,402.2 L660.6,406.6 L661.8,399.9 L663.0,400.2 L664.2,400.6 L665.4,399.3 L666.6,397.6 L667.8,394.6 L669.0,394.6 L670.2,397.4 L671.4,396.1 L672.6,398.3 L673.8,395.5 L675.0,404.3 L676.2,398.8 L677.4,407.6 L678.6,402.5 L679.8,402.1 L681.0,402.6 L682.2,407.7 L683.4,408.3 L684.6,404.0 L685.8,406.7 L687.0,405.6 L688.2,405.4 L689.4,406.3 L690.6,408.6 L691.8,403.6 L693.0,404.1 L694.2,410.9 L695.4,411.4 L696.6,414.9 L697.8,411.2 L699.0,412.9 L700.2,422.2 L701.4,417.6 L702.6,422.2 L703.8,420.4 L705.0,422.1 L706.2,420.7 L707.4,427.3 L708.6,422.2 L709.8,425.6 L711.0,428.1 L712.2,434.4 L713.4,434.1 L714.6,435.6 L715.8,434.8 L717.0,436.1 L718.2,437.8 L719.4,436.6 L720.6,431.6 L721.8,425.4 L723.0,431.4 L724.2,429.6 L725.4,427.5 L726.6,430.0 L727.8,428.8 L729.0,436.0 L730.2,431.3 L731.4,428.3 L732.6,433.9 L733.8,432.0 L735.0,437.2 L736.2,435.3 L737.4,434.3 L738.6,439.4 L739.8,442.5 L741.0,445.6 L742.2,448.2 L743.4,447.7 L744.6,453.4 L745.8,450.2 L747.0,452.0 L748.2,455.8 L749.4,458.5 L750.6,453.6 L751.8,458.7 L753.0,451.2 L754.2,456.6 L755.4,454.5 L756.6,454.6 L757.8,451.9 L759.0,451.7 L760.2,451.3 L761.4,450.2 L762.6,448.7 L763.8,449.2 L765.0,441.0 L766.2,436.4 L767.4,427.9 L768.6,420.0 L769.8,415.0 L771.0,402.3 L772.2,392.7 L773.4,383.2 L774.6,372.7 L775.8,358.9 L777.0,353.2 L778.2,343.8 L779.4,336.9 L780.6,342.3 L781.8,345.2 L783.0,351.5 L784.2,362.0 L785.4,376.3 L786.6,392.8 L787.8,405.0 L789.0,415.3 L790.2,428.1 L791.4,436.1 L792.6,448.5 L793.8,455.3 L795.0,460.0 L796.2,463.6 L797.4,465.9 L798.6,468.0 L799.8,462.9 L801.0,455.4 L802.2,445.7 L803.4,440.2 L804.4,435.2 L805.8,441.3 L807.0,455.9 L808.2,473.4 L809.4,487.3 L810.6,491.1 L811.8,492.1 L813.0,493.5 L814.2,492.7 L815.4,497.8 L816.6,496.7 L817.8,496.2 L819.0,497.9 L820.2,497.6 L821.4,503.3 L822.6,499.3 L823.8,501.7 L825.0,502.3 L826.2,501.2 L827.4,503.3 L828.6,503.1 L829.8,504.0 L831.0,504.0 L832.2,504.8 L833.4,504.8 L834.6,502.9 L835.8,502.7 L837.0,502.6 L838.2,502.7 L839.4,502.3 L840.6,507.0 L841.8,506.9 L843.0,507.7 L844.2,506.1 L845.4,506.6 L846.6,505.4 L847.8,509.4 L849.0,510.9 L850.2,511.0 L851.4,510.3 L852.6,509.3 L853.8,511.3 L855.0,511.8 L856.2,513.3 L857.4,513.8 L858.6,512.8 L859.8,513.5 L861.0,514.8 L862.2,514.8 L863.4,514.2 L864.6,511.5 L865.8,514.0 L867.0,516.5 L868.2,515.5 L869.4,516.7 L870.6,514.8 L871.8,515.4 L873.0,516.4 L874.2,516.3 L875.4,516.2 L876.6,517.8 L877.8,518.7 L879.0,519.4 L880.2,515.7 L881.4,517.9 L882.6,518.7 L883.8,518.8 L885.0,517.2 L886.2,521.5 L887.4,518.4 L888.6,520.1 L889.8,516.8 L891.0,519.5 L892.2,519.8 L893.4,518.9 L894.6,521.2 L895.8,523.5 L897.0,519.0 L898.2,519.0 L899.4,522.5 L900.6,520.8 L901.8,519.5 L903.0,518.0 L904.2,520.7 L905.4,519.9 L906.6,521.8 L907.8,518.5 L909.0,519.6 L910.2,519.5 L911.4,519.7 L912.6,521.6 L913.8,521.3 L915.0,519.6 L916.2,520.6 L917.4,520.8 L918.6,522.6 L919.8,521.4 L921.0,520.5 L922.2,522.0 L923.4,523.2 L924.6,525.2 L925.8,526.4 L927.0,527.2 L928.2,526.7 L929.4,526.3 L930.6,527.8 L931.8,526.9 L933.0,526.3 L934.2,527.6 L935.4,527.8 L936.6,528.4 L937.8,526.2 L939.0,525.3 L940.2,528.3 L941.4,526.7 L942.6,529.5 L943.8,527.2 L945.0,528.2 L946.2,527.0 L947.4,532.1 L948.6,529.3 L949.8,530.0 L951.0,529.8 L952.2,530.4 L953.4,532.0 L954.6,531.5 L955.8,531.6 L957.0,533.3 L958.2,530.2 L959.4,533.2 L960.6,533.8 L961.8,530.2 L963.0,532.2 L964.2,530.3 L965.4,529.4 L966.6,531.1 L967.8,532.8 L969.0,533.2 L970.2,532.0 L971.4,531.5 L972.6,531.7 L973.8,531.9 L975.0,532.2 L976.2,530.2 L977.4,532.9 L978.6,533.1 L979.8,535.9 L981.0,534.3 L982.2,533.5 L983.4,533.8 L984.6,534.1 L985.8,532.7 L987.0,530.9 L988.2,532.3 L989.4,532.7 L990.6,532.3 L991.8,530.1 L993.0,528.6 L994.2,528.3 L995.4,527.8 L996.6,527.6 L997.8,525.7 L999.0,528.1 L1000.2,527.8 L1001.4,531.5 L1002.6,531.2 L1003.8,530.2 L1005.0,532.1 L1006.2,533.1 L1007.4,532.2 L1008.6,534.8 L1009.8,534.0 L1011.0,534.7 L1012.2,532.8 L1013.4,534.2 L1014.6,534.5 L1015.8,532.9 L1017.0,532.8 L1018.2,532.9 L1019.4,534.3 L1020.6,534.3 L1021.8,535.3 L1023.0,535.0 L1024.2,534.0 L1025.4,534.3 L1026.6,535.5 L1027.8,536.7 L1029.0,538.8 L1030.2,537.4 L1031.4,536.0 L1032.6,534.6 L1033.8,537.6 L1035.0,537.1 L1036.2,535.6 L1037.4,537.8 L1038.6,536.6 L1039.8,536.0 L1041.0,534.1 L1042.2,537.2 L1043.4,536.0 L1044.6,535.5 L1045.8,534.7 L1047.0,535.4 L1048.2,537.2 L1049.4,536.4 L1050.6,538.0 L1051.8,537.0 L1053.0,536.2 L1054.2,536.8 L1055.4,536.1 L1056.6,534.5 L1057.8,535.7 L1059.0,536.9 L1060.2,535.7 L1061.4,536.4 L1062.6,535.8 L1063.8,539.2 L1065.0,536.1 L1066.2,536.4 L1067.4,535.1 L1068.6,537.4 L1069.8,537.0 L1071.0,534.5 L1072.2,535.6 L1073.4,534.4 L1074.6,535.8 L1075.8,539.2 L1077.0,537.8 L1078.2,537.1 L1079.4,536.2 L1080.6,537.6 L1081.8,536.8 L1083.0,536.2 L1084.2,538.8 L1085.4,538.1 L1086.6,537.0 L1087.8,537.1 L1089.0,533.4 L1090.2,536.4 L1091.4,533.0 L1092.6,534.2 L1093.8,533.9 L1095.0,534.1 L1096.2,533.3 L1097.4,529.2 L1099.1,526.0 L1099.8,526.3 L1101.0,530.8 L1102.2,531.9 L1103.4,531.9 L1104.6,533.8 L1105.8,535.4 L1107.0,534.8 L1108.2,534.3 L1109.4,536.0 L1110.6,534.8 L1111.8,534.8 L1113.0,538.2 L1114.2,536.5 L1115.4,538.0 L1116.6,533.7 L1117.8,536.2 L1119.0,534.5 L1120.2,537.7 L1121.4,534.3 L1122.6,534.0 L1123.8,534.9 L1125.0,534.7 L1126.2,534.1 L1127.4,535.8 L1128.6,535.7 L1129.8,536.1 L1131.0,535.7 L1132.2,534.6 L1133.4,534.8 L1134.6,536.3 L1135.8,534.1 L1137.0,536.7 L1138.2,534.5 L1139.4,533.1 L1140.6,534.9 L1141.8,533.2 L1143.0,534.6 L1144.2,533.3 L1145.4,535.1 L1146.6,532.6 L1147.8,530.4 L1149.0,531.1 L1150.2,530.9 L1151.4,533.5 L1152.6,534.2 L1153.8,530.8 L1155.0,528.3 L1156.2,529.8 L1157.4,529.4 L1158.6,529.0 L1159.8,530.9 L1161.0,530.6 L1162.2,529.8 L1163.4,532.6 L1164.6,530.7 L1165.8,529.7 L1167.0,530.0 L1168.2,531.7 L1169.4,531.7 L1170.6,530.8 L1171.8,528.2 L1173.0,527.3 L1174.2,528.9 L1175.4,528.0 L1176.6,528.2 L1177.8,526.4 L1179.0,526.6 L1180.2,526.2 L1181.4,528.5 L1182.6,528.7 L1183.8,526.4 L1185.0,527.9 L1186.2,527.8 L1187.4,526.1 L1188.6,527.2 L1189.8,528.5 L1191.0,526.3 L1192.2,529.4 L1193.4,527.3 L1194.6,527.1 L1195.8,526.1 L1197.0,523.9 L1198.2,525.6 L1199.4,524.6 L1200.6,523.5 L1201.8,523.1 L1203.0,523.4 L1204.2,522.0 L1205.4,520.7 L1206.6,520.8 L1207.8,521.5 L1209.0,521.7 L1210.2,521.8 L1211.4,525.2 L1212.6,524.4 L1213.8,525.0 L1215.0,523.4 L1216.2,521.8 L1217.4,522.2 L1218.6,523.6 L1219.8,525.4 L1221.0,522.4 L1222.2,525.1 L1223.4,525.3 L1224.6,523.3 L1225.8,522.5 L1227.0,522.2 L1228.2,525.1 L1229.4,525.7 L1230.6,525.6 L1231.8,526.9 L1233.0,525.1 L1234.2,525.6 L1235.4,526.3 L1236.6,525.7 L1237.8,526.6 L1239.0,526.6 L1240.2,525.5 L1241.4,524.3 L1242.6,524.3 L1243.8,526.4 L1245.0,523.1 L1246.2,524.9 L1247.4,523.9 L1248.6,528.7 L1249.8,525.3 L1251.0,527.3 L1252.2,525.7 L1253.4,531.4 L1254.6,525.8 L1255.8,528.2 L1257.0,526.3 L1258.2,529.1 L1259.4,526.7 L1260.6,527.4 L1261.8,526.2 L1263.0,527.2 L1264.2,527.3 L1265.4,529.0 L1266.6,523.3 L1267.8,526.5 L1269.0,525.5 L1270.2,525.0 L1271.4,525.9 L1272.6,527.5 L1273.8,526.9 L1275.0,527.3 L1276.2,526.7 L1277.4,527.3 L1278.6,528.3 L1279.8,526.4 L1281.0,526.8 L1282.2,527.5 L1283.4,528.0 L1284.6,528.4 L1285.8,527.9 L1287.0,525.9 L1288.2,529.8 L1289.4,529.8 L1290.6,529.7 L1291.8,528.2 L1293.0,528.5 L1294.2,526.6 L1295.4,525.5 L1296.6,526.6 L1297.8,526.4 L1299.0,528.0 L1300.2,527.7 L1301.4,525.9 L1302.6,525.8 L1303.8,525.9 L1305.0,525.6 L1306.2,526.9 L1307.4,523.9 L1308.6,525.8 L1309.8,520.9 L1311.0,520.0 L1312.2,521.5 L1313.4,518.4 L1314.6,517.2 L1315.8,517.2 L1317.0,515.3 L1318.2,514.0 L1319.4,510.6 L1320.6,507.0 L1321.8,503.5 L1323.0,498.7 L1324.2,496.4 L1325.4,491.4 L1326.6,487.0 L1327.8,479.7 L1329.0,472.4 L1330.2,462.9 L1331.4,453.5 L1332.6,446.7 L1333.8,445.4 L1335.0,445.3 L1336.2,448.0 L1337.4,453.5 L1338.6,462.5 L1339.8,473.0 L1341.0,482.4 L1342.2,491.7 L1343.4,499.7 L1344.6,504.5 L1345.8,503.4 L1347.0,508.2 L1348.2,512.0 L1349.4,516.1 L1350.6,518.8 L1351.8,520.8 L1353.0,522.2 L1354.2,520.6 L1355.4,521.0 L1356.6,522.1 L1357.8,520.4 L1359.0,523.9 L1360.2,518.8 L1361.4,518.1 L1362.6,519.0 L1363.8,516.5 L1365.0,520.2 L1366.2,522.2 L1367.4,525.7 L1368.6,529.4 L1369.8,527.1 L1371.0,526.7 L1372.2,529.3 L1373.4,530.1 L1374.6,528.4 L1375.8,530.2 L1377.0,532.3 L1378.2,531.8 L1379.4,531.2 L1380.6,531.8 L1381.8,529.3 L1383.0,529.1 L1384.2,530.2 L1385.4,533.7 L1386.6,531.5 L1387.8,531.9 L1389.0,534.0 L1390.2,534.4 L1391.4,533.1 L1392.6,534.2 L1393.8,535.2 L1395.0,535.8 L1396.2,535.9 L1397.4,536.1 L1398.6,533.4 L1399.8,535.7 L1401.0,535.0 L1402.2,533.9 L1403.4,534.5 L1404.6,534.7 L1405.8,534.5 L1407.0,535.0 L1408.2,534.8 L1409.4,533.7 L1410.6,537.8 L1411.8,536.0 L1413.0,538.1 L1414.2,535.5 L1415.4,537.7 L1416.6,535.9 L1417.8,537.9 L1419.0,537.3 L1420.2,537.1 L1421.4,536.1 L1422.6,536.7 L1423.8,537.8 L1425.0,534.1 L1426.2,535.5 L1427.4,534.9 L1428.6,535.3 L1429.8,537.0 L1431.0,537.2 L1432.2,536.1 L1433.4,537.6 L1434.6,535.6 L1435.8,535.8 L1437.0,536.6 L1438.2,537.0 L1439.4,536.4 L1440.6,535.5 L1441.8,537.3 L1443.0,538.5 L1444.2,536.0 L1445.4,536.3 L1446.6,534.9 L1447.8,535.9 L1449.0,534.8 L1450.2,535.8 L1451.4,537.2 L1452.6,536.0 L1453.8,534.7 L1455.0,537.3 L1456.2,534.0 L1457.4,537.4 L1458.6,536.5 L1459.8,535.2 L1461.0,536.2 L1462.2,535.7 L1463.4,539.0 L1464.6,537.6 L1465.8,535.2 L1467.0,536.6 L1468.2,537.6 L1469.4,537.0 L1470.6,538.0 L1471.8,538.3 L1473.0,536.5 L1474.2,538.8 L1475.4,541.5 L1476.6,538.9 L1477.8,539.3 L1479.0,538.3 L1480.2,538.5 L1481.4,539.5 L1482.6,538.1 L1483.8,537.1 L1485.0,539.5 L1486.2,537.7 L1487.4,538.4 L1488.6,538.1 L1489.8,538.3 L1491.0,538.6 L1492.2,538.6 L1493.4,537.8 L1494.6,539.1 L1495.8,537.9 L1497.0,538.7 L1498.2,537.8 L1499.4,538.6 L1500.6,537.7 L1501.8,540.0 L1503.0,538.8 L1504.2,537.7 L1505.4,536.5 L1506.6,537.5 L1507.8,539.6 L1509.0,537.4 L1510.2,539.1 L1511.4,537.7 L1512.6,537.5 L1513.8,536.8 L1515.0,538.5 L1516.2,539.1 L1517.4,538.9 L1518.6,538.7 L1519.8,537.1 L1521.0,538.4 L1522.2,537.4 L1523.4,538.0 L1524.6,539.6 L1525.8,538.4 L1527.0,540.2 L1528.2,539.7 L1529.4,541.8 L1530.6,540.4 L1531.8,541.1 L1533.0,541.7 L1534.2,541.4 L1535.4,541.5 L1536.6,539.3 L1537.8,542.0 L1539.0,539.3 L1540.2,539.8 L1541.4,537.6 L1542.6,539.3 L1543.8,538.6 L1545.0,538.6 L1546.2,537.5 L1547.4,538.4 L1548.6,537.8 L1549.8,538.3 L1551.0,539.4 L1552.2,536.3 L1553.4,538.5 L1554.6,538.4 L1555.8,536.9 L1557.0,538.0 L1558.2,539.8 L1559.4,538.6 L1560.6,537.5 L1561.8,538.7 L1563.0,538.2 L1564.2,535.9 L1565.4,536.0 L1566.6,535.5 L1567.8,534.6 L1569.0,534.2 L1570.2,532.8 L1571.4,531.9 L1572.6,530.3 L1573.8,529.6 L1575.0,528.7 L1576.2,529.2 L1577.4,527.7 L1578.6,526.0 L1579.8,525.6 L1581.0,525.6 L1582.2,520.1 L1583.4,518.7 L1584.6,513.3 L1585.8,511.0 L1587.0,508.7 L1588.2,505.4 L1589.4,501.9 L1590.6,494.8 L1591.8,492.6 L1593.0,494.1 L1594.2,494.0 L1595.4,491.7 L1596.6,495.0 L1597.8,499.8 L1599.0,504.0 L1600.2,507.7 L1601.4,514.6 L1602.6,517.3 L1603.8,523.7 L1605.0,527.4 L1606.2,526.6 L1607.4,530.0 L1608.6,530.8 L1609.8,533.2 L1611.0,535.5 L1612.2,536.8 L1613.4,536.7 L1614.6,534.8 L1615.8,535.4 L1617.0,538.4 L1618.2,536.6 L1619.4,535.8 L1620.6,536.7 L1621.8,535.8 L1623.0,537.5 L1624.2,537.0 L1625.4,537.5 L1626.6,537.1 L1627.8,541.0 L1629.0,540.6 L1630.2,541.3 L1631.4,542.3 L1632.6,542.2 L1633.8,542.1 L1635.0,543.6 L1636.2,543.7 L1637.4,543.6 L1638.6,542.8 L1639.8,541.8 L1641.0,543.8 L1642.2,543.3 L1643.4,542.5 L1644.6,541.9 L1645.8,541.6 L1647.0,540.8 L1648.2,540.0 L1649.4,541.7 L1650.6,541.8 L1651.8,542.9 L1653.0,542.7 L1654.2,543.5 L1655.4,541.4 L1656.6,543.8 L1657.8,545.3 L1659.0,543.5 L1660.2,544.2 L1661.4,545.0 L1662.6,543.8 L1663.8,543.4 L1665.0,541.6 L1666.2,542.0 L1667.4,543.9 L1668.6,542.4 L1669.8,542.2 L1671.0,543.6 L1672.2,539.9 L1673.4,542.3 L1674.6,542.2 L1675.8,540.5 L1677.0,542.5 L1678.2,544.1 L1679.4,543.8 L1680.6,544.2 L1681.8,545.7 L1683.0,545.6 L1684.2,546.4 L1685.4,546.5 L1686.6,547.1 L1687.8,547.0 L1689.0,548.0 L1690.2,546.7 L1691.4,545.4 L1692.6,545.8 L1693.8,545.4 L1695.0,547.6 L1696.2,544.6 L1697.4,546.4 L1698.6,546.4 L1699.8,547.7 L1701.0,546.2" fill="none" stroke="#000080" stroke-width="4.0" stroke-linejoin="round" stroke-linecap="butt" shape-rendering="crispEdges"/>
<path d="M120.7,112.6 L121.9,106.3 L123.1,107.7 L124.3,107.0 L125.5,114.5 L126.7,105.2 L127.9,120.1 L129.1,115.0 L130.3,120.8 L131.5,121.7 L132.7,129.4 L133.9,121.3 L135.1,128.9 L136.3,131.1 L137.5,138.1 L138.7,132.8 L139.9,137.3 L141.1,136.7 L142.3,141.2 L143.5,144.1 L144.7,139.7 L145.9,147.6 L147.1,147.8 L148.3,147.4 L149.5,149.6 L150.7,147.2 L151.9,151.4 L153.1,151.7 L154.3,156.2 L155.5,160.5 L156.7,158.2 L157.9,160.5 L159.1,161.0 L160.3,162.1 L161.5,164.6 L162.7,168.6 L163.9,167.4 L165.1,173.3 L166.3,179.0 L167.5,177.6 L168.7,176.3 L169.9,175.6 L171.1,177.1 L172.3,185.2 L173.5,181.3 L174.7,180.2 L175.9,183.5 L177.1,190.0 L178.3,186.6 L179.5,190.5 L180.7,192.2 L181.9,192.3 L183.1,192.1 L184.3,194.7 L185.5,195.6 L186.7,198.2 L187.9,199.8 L189.1,202.0 L190.3,202.2 L191.5,205.8 L192.7,203.3 L193.9,209.4 L195.1,207.7 L196.3,205.8 L197.5,208.4 L198.7,208.1 L199.9,213.1 L201.1,215.8 L202.3,219.3 L203.5,211.0 L204.7,212.6 L205.9,216.2 L207.1,219.1 L208.3,222.1 L209.5,221.6 L210.7,216.3 L211.9,221.7 L213.1,223.8 L214.3,221.2 L215.5,221.7 L216.7,218.1 L217.9,217.3 L219.1,217.4 L220.3,221.2 L221.5,226.0 L222.7,229.8 L223.9,231.0 L225.1,236.5 L226.3,236.5 L227.5,238.8 L228.7,238.5 L229.9,235.5 L231.1,234.1 L232.3,234.3 L233.5,238.0 L234.7,238.0 L235.9,237.8 L237.1,239.7 L238.3,239.1 L239.5,243.7 L240.7,241.9 L241.9,247.4 L243.1,246.3 L244.3,247.4 L245.5,243.7 L246.7,247.5 L247.9,249.6 L249.1,246.3 L250.3,249.2 L251.5,251.0 L252.7,248.5 L253.9,253.9 L255.1,256.3 L256.3,253.1 L257.5,256.3 L258.7,252.1 L259.9,255.3 L261.1,251.4 L262.3,258.7 L263.5,257.8 L264.7,257.6 L265.9,256.7 L267.1,262.7 L268.3,265.3 L269.5,256.7 L270.7,265.2 L271.9,267.1 L273.1,264.8 L274.3,262.0 L275.5,267.8 L276.7,264.5 L277.9,262.6 L279.1,260.3 L280.3,263.9 L281.5,264.9 L282.7,262.4 L283.9,267.1 L285.1,262.9 L286.3,268.5 L287.5,267.6 L288.7,267.8 L289.9,268.7 L291.1,271.7 L292.3,272.2 L293.5,272.4 L294.7,272.1 L295.9,272.7 L297.1,274.4 L298.3,273.9 L299.5,275.3 L300.7,273.3 L301.9,268.6 L303.1,277.2 L304.3,284.4 L305.5,276.4 L306.7,275.4 L307.9,275.5 L309.1,275.8 L310.3,276.4 L311.5,273.9 L312.7,275.6 L313.9,274.6 L315.1,277.5 L316.3,276.3 L317.5,278.1 L318.7,276.6 L319.9,279.3 L321.1,277.5 L322.3,282.2 L323.5,273.0 L324.7,276.3 L325.9,280.3 L327.1,284.4 L328.3,278.3 L329.5,279.3 L330.7,279.1 L331.9,283.3 L333.1,280.1 L334.3,283.0 L335.5,281.3 L336.7,279.7 L337.9,283.8 L339.1,284.4 L340.3,286.4 L341.5,283.4 L342.7,282.4 L343.9,285.4 L345.1,284.8 L346.3,285.1 L347.5,284.5 L348.7,287.3 L349.9,285.4 L351.1,288.8 L352.3,286.9 L353.5,285.8 L354.7,280.4 L355.9,285.4 L357.1,284.9 L358.3,285.7 L359.5,286.3 L360.7,282.9 L361.9,285.8 L363.1,282.6 L364.3,288.4 L365.5,280.8 L366.7,279.8 L367.9,280.1 L369.1,282.0 L370.3,282.0 L371.5,289.5 L372.7,284.7 L373.9,282.8 L375.1,288.9 L376.3,284.7 L377.5,282.6 L378.7,286.9 L379.9,285.7 L381.1,283.5 L382.3,288.0 L383.5,285.4 L384.7,289.1 L385.9,286.8 L387.1,292.4 L388.3,286.5 L389.5,283.8 L390.7,292.3 L391.9,285.0 L393.1,285.4 L394.3,283.9 L395.5,284.6 L396.7,285.2 L397.9,284.8 L399.1,285.4 L400.3,287.6 L401.5,283.2 L402.7,280.9 L403.9,281.2 L405.1,282.6 L406.3,280.4 L407.5,286.4 L408.7,283.5 L409.9,284.2 L411.1,285.1 L412.3,281.5 L413.5,282.3 L414.7,285.4 L415.9,284.9 L417.1,282.0 L418.3,286.8 L419.5,279.2 L420.7,281.1 L421.9,281.0 L423.1,274.7 L424.3,285.4 L425.5,281.5 L426.7,275.9 L427.9,284.8 L429.1,281.1 L430.3,280.4 L431.5,277.7 L432.7,279.4 L433.9,275.7 L435.1,281.2 L436.3,278.6 L437.5,279.9 L438.7,282.6 L439.9,280.5 L441.1,280.0 L442.3,279.2 L443.5,276.0 L444.7,278.8 L445.9,279.7 L447.1,277.0 L448.3,276.4 L449.5,271.8 L450.7,271.7 L451.9,270.2 L453.1,276.5 L454.3,272.8 L455.5,276.7 L456.7,271.4 L457.9,272.1 L459.1,273.3 L460.3,274.7 L461.5,272.1 L462.7,271.8 L463.9,270.8 L465.1,270.5 L466.3,266.8 L467.5,269.1 L468.7,267.9 L469.9,267.6 L471.1,268.3 L472.3,264.9 L473.5,265.7 L474.7,264.6 L475.9,265.7 L477.1,266.0 L478.3,261.2 L479.5,264.3 L480.7,267.6 L481.9,258.6 L483.1,259.9 L484.3,259.4 L485.5,260.6 L486.7,265.0 L487.9,260.1 L489.1,257.3 L490.3,259.5 L491.5,255.4 L492.7,258.7 L493.9,255.7 L495.1,258.1 L496.3,252.6 L497.5,261.6 L498.7,255.8 L499.9,255.0 L501.1,252.6 L502.3,249.7 L503.5,248.1 L504.7,248.8 L505.9,245.9 L507.1,247.5 L508.3,243.7 L509.5,246.5 L510.7,246.6 L511.9,241.4 L513.1,245.5 L514.3,241.0 L515.5,243.7 L516.7,241.0 L517.9,242.0 L519.1,235.6 L520.3,237.1 L521.5,240.3 L522.7,234.1 L523.9,229.5 L525.1,228.9 L526.3,226.7 L527.5,226.9 L528.7,230.7 L529.9,234.4 L531.1,229.1 L532.3,230.5 L533.5,228.7 L534.7,228.4 L535.9,227.4 L537.1,226.8 L538.3,227.9 L539.5,222.1 L540.7,226.5 L541.9,224.8 L543.1,220.3 L544.3,221.5 L545.5,215.9 L546.7,214.4 L547.9,214.4 L549.1,211.5 L550.3,208.1 L551.8,204.1 L552.7,204.8 L553.9,211.8 L555.1,203.6 L556.3,209.3 L557.5,207.0 L558.7,209.0 L559.9,207.8 L561.1,197.3 L562.3,206.8 L563.5,203.4 L564.7,201.2 L565.9,198.5 L567.1,200.9 L568.3,196.0 L569.5,201.2 L570.7,196.4 L571.9,199.7 L573.1,190.1 L574.3,186.1 L575.5,192.0 L576.7,191.2 L577.9,187.8 L579.1,182.3 L580.3,184.5 L581.5,186.6 L582.7,183.3 L583.9,182.6 L585.1,181.4 L586.3,178.1 L587.5,178.1 L588.7,174.3 L589.9,182.5 L591.1,174.7 L592.3,176.3 L593.5,170.6 L594.7,174.8 L595.9,165.1 L597.1,171.8 L598.3,167.3 L599.5,172.1 L600.7,160.0 L601.9,162.6 L603.1,161.8 L604.3,163.4 L605.5,157.4 L606.7,158.0 L607.9,150.2 L609.1,153.3 L610.3,156.3 L611.5,157.3 L612.7,151.7 L613.9,157.5 L615.1,155.1 L616.3,148.1 L617.5,139.3 L618.7,139.8 L619.9,141.5 L621.1,146.2 L622.3,142.6 L623.5,134.0 L624.7,138.8 L625.9,143.5 L627.1,136.1 L628.3,133.9 L629.5,141.7 L630.7,134.4 L631.9,131.8 L633.1,133.5 L634.3,131.4 L635.5,129.0 L636.7,133.3 L637.9,132.0 L639.1,130.1 L640.3,126.0 L641.5,128.9 L642.7,124.0 L643.9,124.6 L645.1,125.3 L646.3,123.6 L647.5,126.2 L648.7,121.2 L649.9,113.7 L651.1,114.8 L652.3,122.3 L653.5,116.3 L654.7,118.0 L655.9,113.8 L657.1,119.7 L658.3,115.0 L659.5,120.9 L660.7,114.2 L661.9,119.2 L663.1,115.7 L664.3,107.9 L665.5,115.5 L666.7,113.2 L667.9,116.0 L669.1,122.0 L670.3,118.6 L671.5,119.8 L672.7,121.6 L673.9,120.4 L675.1,129.8 L676.3,125.9 L677.5,123.8 L678.7,123.9 L679.9,125.8 L681.1,130.3 L682.3,127.9 L683.5,123.9 L684.7,128.5 L685.9,126.1 L687.1,126.2 L688.3,134.1 L689.5,128.5 L690.7,130.0 L691.9,123.4 L693.1,133.6 L694.3,142.1 L695.5,143.0 L696.7,149.5 L697.9,147.7 L699.1,151.2 L700.3,156.8 L701.5,159.4 L702.7,157.0 L703.9,162.0 L705.1,161.4 L706.3,162.7 L707.5,161.4 L708.7,166.5 L709.9,171.0 L711.1,170.5 L712.3,175.8 L713.5,174.4 L714.7,179.6 L715.9,184.4 L717.1,176.1 L718.3,179.2 L719.5,181.8 L720.7,172.7 L721.6,172.7 L723.1,178.6 L724.3,188.5 L725.5,200.3 L726.7,208.2 L727.9,210.7 L729.1,216.6 L730.3,218.6 L731.5,223.8 L732.7,228.7 L733.9,226.4 L735.1,227.4 L736.3,224.8 L737.5,230.7 L738.7,230.6 L739.9,238.9 L741.1,243.8 L742.3,243.6 L743.5,246.8 L744.7,248.4 L745.9,245.4 L747.1,250.2 L748.3,256.5 L749.5,257.9 L750.7,260.5 L751.9,267.1 L753.1,264.1 L754.3,269.1 L755.5,271.2 L756.7,272.0 L757.9,266.3 L759.1,270.4 L760.3,274.9 L761.5,276.8 L762.7,277.6 L763.9,280.9 L765.1,279.3 L766.3,276.8 L767.5,283.2 L768.7,283.4 L769.9,284.6 L771.1,284.6 L772.3,291.7 L773.5,285.5 L774.7,287.9 L775.9,292.2 L777.1,296.5 L778.3,297.5 L779.5,292.9 L780.7,295.8 L781.9,296.7 L783.1,304.9 L784.3,301.9 L785.5,306.2 L786.7,311.8 L787.9,308.8 L789.1,313.4 L790.3,307.4 L791.5,311.9 L792.7,313.3 L793.9,311.7 L795.1,316.9 L796.3,317.3 L797.5,314.8 L798.7,327.1 L799.9,321.5 L801.1,321.5 L802.3,319.5 L803.5,323.5 L804.7,323.1 L805.9,325.6 L807.1,325.4 L808.3,328.6 L809.5,325.5 L810.7,326.6 L811.9,327.0 L813.1,326.9 L814.3,327.7 L815.5,331.1 L816.7,331.4 L817.9,329.6 L819.1,329.3 L820.3,331.9 L821.5,334.8 L822.7,333.1 L823.9,337.1 L825.1,333.1 L826.3,336.0 L827.5,332.3 L828.7,337.0 L829.9,338.8 L831.1,340.5 L832.3,342.8 L833.5,339.9 L834.7,342.6 L835.9,341.4 L837.1,342.2 L838.3,340.2 L839.5,346.1 L840.7,340.3 L841.9,343.7 L843.1,341.7 L844.3,343.2 L845.5,342.5 L846.7,345.0 L847.9,347.4 L849.1,347.6 L850.3,346.3 L851.5,351.5 L852.7,349.7 L853.9,351.0 L855.1,350.8 L856.3,348.5 L857.5,346.4 L858.7,348.8 L859.9,353.0 L861.1,349.8 L862.3,353.5 L863.5,351.7 L864.7,353.9 L865.9,350.3 L867.1,355.4 L868.3,353.5 L869.5,355.2 L870.7,354.1 L871.9,355.3 L873.1,353.8 L874.3,352.4 L875.5,347.6 L876.7,351.6 L877.9,356.3 L879.1,355.6 L880.3,355.8 L881.5,356.4 L882.7,358.0 L883.9,356.7 L885.1,358.7 L886.3,356.6 L887.5,357.7 L888.7,360.1 L889.9,360.5 L891.1,357.3 L892.3,360.6 L893.5,357.9 L894.7,360.9 L895.9,357.0 L897.1,358.5 L898.3,359.7 L899.5,360.5 L900.7,363.2 L901.9,362.7 L903.1,364.0 L904.3,363.7 L905.5,361.7 L906.7,362.1 L907.9,364.4 L909.1,363.1 L910.3,363.0 L911.5,359.8 L912.7,363.6 L913.9,359.7 L915.1,363.5 L916.3,362.9 L917.5,365.6 L918.7,363.9 L919.9,364.3 L921.1,366.9 L922.3,363.4 L923.5,365.6 L924.7,362.4 L925.9,365.5 L927.1,366.1 L928.3,366.9 L929.5,364.4 L930.7,366.3 L931.9,366.5 L933.1,366.1 L934.3,366.5 L935.5,367.2 L936.7,367.4 L937.9,365.6 L939.1,365.5 L940.3,371.2 L941.5,370.6 L942.7,365.8 L943.9,368.5 L945.1,368.8 L946.3,368.9 L947.5,368.1 L948.7,366.5 L949.9,367.6 L951.1,367.2 L952.3,368.2 L953.5,367.8 L954.7,368.1 L955.9,369.9 L957.1,370.3 L958.3,366.9 L959.5,368.1 L960.7,368.0 L961.9,371.3 L963.1,369.8 L964.3,373.9 L965.5,369.9 L966.7,371.0 L967.9,369.4 L969.1,373.0 L970.3,370.6 L971.5,368.9 L972.7,369.4 L973.9,367.5 L975.1,370.6 L976.3,370.8 L977.5,371.2 L978.7,372.6 L979.9,370.2 L981.1,371.9 L982.3,371.3 L983.5,370.7 L984.7,368.2 L985.9,372.5 L987.1,370.6 L988.3,371.3 L989.5,369.4 L990.7,371.6 L991.9,371.4 L993.1,371.2 L994.3,370.9 L995.5,372.5 L996.7,372.3 L997.9,372.0 L999.1,375.7 L1000.3,370.2 L1001.5,370.6 L1002.7,369.7 L1003.9,371.8 L1005.1,370.3 L1006.3,367.5 L1007.5,369.6 L1008.7,371.5 L1009.9,372.9 L1011.1,369.3 L1012.3,370.7 L1013.5,371.5 L1014.7,370.7 L1015.9,372.6 L1017.1,371.9 L1018.3,372.4 L1019.5,371.0 L1020.7,376.0 L1021.9,372.2 L1023.1,374.1 L1024.3,371.7 L1025.5,373.2 L1026.7,371.6 L1027.9,371.3 L1029.1,371.7 L1030.3,372.7 L1031.5,372.5 L1032.7,375.0 L1033.9,371.4 L1035.1,371.5 L1036.3,375.4 L1037.5,373.9 L1038.7,370.4 L1039.9,373.7 L1041.1,373.3 L1042.3,370.1 L1043.5,372.5 L1044.7,373.0 L1045.9,374.0 L1047.1,374.3 L1048.3,373.2 L1049.5,374.4 L1050.7,372.8 L1051.9,371.8 L1053.1,371.7 L1054.3,373.8 L1055.5,370.3 L1056.7,374.0 L1057.9,371.5 L1059.1,372.5 L1060.3,375.1 L1061.5,375.8 L1062.7,371.2 L1063.9,372.4 L1065.1,373.3 L1066.3,372.1 L1067.5,373.8 L1068.7,369.5 L1069.9,372.5 L1071.1,372.3 L1072.3,371.6 L1073.5,372.9 L1074.7,369.5 L1075.9,372.7 L1077.1,370.0 L1078.3,371.8 L1079.5,370.2 L1080.7,371.7 L1081.9,371.5 L1083.1,368.2 L1084.3,369.9 L1085.5,369.9 L1086.7,369.6 L1087.9,368.7 L1089.1,372.3 L1090.3,369.8 L1091.5,371.6 L1092.7,368.5 L1093.9,367.6 L1095.1,369.2 L1096.3,368.1 L1097.5,372.2 L1098.7,369.0 L1099.9,370.2 L1101.1,368.0 L1102.3,367.7 L1103.5,368.0 L1104.7,368.5 L1105.9,369.0 L1107.1,367.4 L1108.3,366.3 L1109.5,365.5 L1110.7,366.6 L1111.9,367.3 L1113.1,366.8 L1114.3,365.8 L1115.5,364.6 L1116.7,365.4 L1117.9,365.8 L1119.1,364.6 L1120.3,364.6 L1121.5,364.0 L1122.7,365.5 L1123.9,363.2 L1125.1,363.9 L1126.3,364.1 L1127.5,364.4 L1128.7,365.4 L1129.9,363.9 L1131.1,363.5 L1132.3,360.0 L1133.5,362.9 L1134.7,365.3 L1135.9,360.1 L1137.1,359.5 L1138.3,360.5 L1139.5,362.1 L1140.7,361.0 L1141.9,359.2 L1143.1,359.5 L1144.3,360.9 L1145.5,360.1 L1146.7,362.6 L1147.9,360.0 L1149.1,358.7 L1150.3,358.8 L1151.5,356.9 L1152.7,355.6 L1153.9,357.1 L1155.1,357.1 L1156.3,353.4 L1157.5,354.2 L1158.7,353.9 L1159.9,354.3 L1161.1,352.8 L1162.3,353.4 L1163.5,352.2 L1164.7,353.1 L1165.9,347.6 L1167.1,352.5 L1168.3,351.3 L1169.5,348.2 L1170.7,349.1 L1171.9,348.9 L1173.1,346.5 L1174.3,347.9 L1175.5,348.9 L1176.7,348.0 L1177.9,349.1 L1179.1,347.3 L1180.3,347.2 L1181.5,345.5 L1182.7,346.1 L1183.9,345.8 L1185.1,349.4 L1186.3,346.7 L1187.5,344.3 L1188.7,346.4 L1189.9,345.0 L1191.1,339.6 L1192.3,345.4 L1193.5,341.5 L1194.7,345.7 L1195.9,341.8 L1197.1,340.7 L1198.3,344.1 L1199.5,340.5 L1200.7,342.3 L1201.9,343.5 L1203.1,344.1 L1204.3,344.3 L1205.5,342.9 L1206.7,341.5 L1207.9,346.3 L1209.1,341.8 L1210.3,348.6 L1211.5,341.9 L1212.7,344.7 L1213.9,344.5 L1215.1,340.7 L1216.3,343.1 L1217.5,343.8 L1218.7,343.6 L1219.9,341.9 L1221.1,342.8 L1222.3,341.0 L1223.5,340.2 L1224.7,344.1 L1225.9,341.3 L1227.1,344.8 L1228.3,343.5 L1229.5,341.5 L1230.7,343.4 L1231.9,343.8 L1233.1,343.3 L1234.3,346.3 L1235.5,344.6 L1236.7,349.1 L1237.9,347.9 L1239.1,345.0 L1240.3,346.6 L1241.5,346.4 L1242.7,344.2 L1243.9,348.6 L1245.1,348.8 L1246.3,348.9 L1247.5,346.8 L1248.7,349.7 L1249.9,347.7 L1251.1,349.9 L1252.3,351.6 L1253.5,349.0 L1254.7,346.6 L1255.9,348.8 L1257.1,350.8 L1258.3,352.1 L1259.5,348.5 L1260.7,350.4 L1261.9,351.5 L1263.1,352.2 L1264.3,353.4 L1265.5,350.5 L1266.7,351.5 L1267.9,354.0 L1269.1,353.1 L1270.3,353.3 L1271.5,354.6 L1272.7,353.0 L1273.9,353.8 L1275.1,352.6 L1276.3,351.5 L1277.5,352.2 L1278.7,355.1 L1279.9,355.2 L1281.1,355.1 L1282.3,357.3 L1283.5,355.9 L1284.7,358.1 L1285.9,358.0 L1287.1,356.8 L1288.3,351.7 L1289.5,360.7 L1290.7,359.0 L1291.9,354.4 L1293.1,358.1 L1294.3,359.5 L1295.5,358.8 L1296.7,360.4 L1297.9,358.2 L1299.1,360.4 L1300.3,360.3 L1301.5,360.4 L1302.7,360.6 L1303.9,361.6 L1305.1,363.0 L1306.3,361.1 L1307.5,362.1 L1308.7,363.7 L1309.9,364.0 L1311.1,365.5 L1312.3,366.8 L1313.5,368.4 L1314.7,366.3 L1315.9,362.8 L1317.1,365.8 L1318.3,366.1 L1319.5,365.0 L1320.7,364.8 L1321.9,361.2 L1323.1,366.2 L1324.3,365.6 L1325.5,364.4 L1326.7,366.0 L1327.9,366.6 L1329.1,369.3 L1330.3,369.5 L1331.5,370.8 L1332.7,369.6 L1333.9,366.7 L1335.1,366.6 L1336.3,370.3 L1337.5,370.9 L1338.7,368.3 L1339.9,370.0 L1341.1,366.2 L1342.3,365.5 L1343.5,366.4 L1344.7,367.5 L1345.9,367.1 L1347.1,367.3 L1348.3,367.3 L1349.5,369.4 L1350.7,370.8 L1351.9,369.2 L1353.1,372.4 L1354.3,368.9 L1355.5,369.5 L1356.7,371.1 L1357.9,370.1 L1359.1,372.3 L1360.3,369.7 L1361.5,372.5 L1362.7,370.9 L1363.9,374.2 L1365.1,370.0 L1366.3,370.3 L1367.5,370.8 L1368.7,367.6 L1369.9,372.1 L1371.1,372.5 L1372.3,372.6 L1373.5,371.0 L1374.7,371.6 L1375.9,375.1 L1377.1,375.7 L1378.3,375.5 L1379.5,371.3 L1380.7,371.0 L1381.9,372.4 L1383.1,370.3 L1384.3,372.5 L1385.5,374.8 L1386.7,376.1 L1387.9,374.6 L1389.1,376.7 L1390.3,375.4 L1391.5,375.4 L1392.7,374.8 L1393.9,375.2 L1395.1,374.5 L1396.3,374.5 L1397.5,373.6 L1398.7,374.7 L1399.9,374.3 L1401.1,372.1 L1402.3,373.6 L1403.5,372.7 L1404.7,371.1 L1405.9,375.1 L1407.1,376.1 L1408.3,377.2 L1409.5,376.1 L1410.7,372.9 L1411.9,375.7 L1413.1,375.7 L1414.3,371.5 L1415.5,375.4 L1416.7,375.3 L1417.9,374.9 L1419.1,375.3 L1420.3,375.1 L1421.5,377.4 L1422.7,374.9 L1423.9,375.4 L1425.1,375.9 L1426.3,376.4 L1427.5,374.0 L1428.7,378.3 L1429.9,377.0 L1431.1,377.6 L1432.3,377.3 L1433.5,377.0 L1434.7,377.0 L1435.9,377.8 L1437.1,378.1 L1438.3,379.5 L1439.5,378.6 L1440.7,377.9 L1441.9,380.6 L1443.1,376.5 L1444.3,376.4 L1445.5,378.6 L1446.7,377.8 L1447.9,375.9 L1449.1,377.7 L1450.3,377.2 L1451.5,379.7 L1452.7,377.7 L1453.9,380.0 L1455.1,379.5 L1456.3,378.9 L1457.5,379.3 L1458.7,380.0 L1459.9,376.8 L1461.1,380.3 L1462.3,379.6 L1463.5,382.3 L1464.7,379.3 L1465.9,381.6 L1467.1,377.1 L1468.3,381.3 L1469.5,380.7 L1470.7,380.1 L1471.9,380.2 L1473.1,380.1 L1474.3,381.0 L1475.5,380.3 L1476.7,378.3 L1477.9,380.2 L1479.1,383.2 L1480.3,380.5 L1481.5,380.8 L1482.7,379.9 L1483.9,380.7 L1485.1,380.9 L1486.3,380.2 L1487.5,381.6 L1488.7,379.5 L1489.9,380.5 L1491.1,381.4 L1492.3,380.2 L1493.5,379.4 L1494.7,381.6 L1495.9,379.8 L1497.1,380.5 L1498.3,380.2 L1499.5,381.3 L1500.7,381.1 L1501.9,381.3 L1503.1,382.8 L1504.3,384.3 L1505.5,381.7 L1506.7,383.2 L1507.9,382.4 L1509.1,383.1 L1510.3,384.2 L1511.5,382.8 L1512.7,381.7 L1513.9,381.7 L1515.1,381.8 L1516.3,382.4 L1517.5,383.3 L1518.7,380.6 L1519.9,380.9 L1521.1,381.0 L1522.3,380.3 L1523.5,384.2 L1524.7,382.8 L1525.9,385.3 L1527.1,381.7 L1528.3,385.0 L1529.5,383.0 L1530.7,383.6 L1531.9,383.2 L1533.1,383.3 L1534.3,381.7 L1535.5,384.6 L1536.7,382.9 L1537.9,384.1 L1539.1,384.4 L1540.3,385.1 L1541.5,384.5 L1542.7,385.0 L1543.9,384.9 L1545.1,384.3 L1546.3,384.8 L1547.5,383.3 L1548.7,383.5 L1549.9,386.5 L1551.1,384.4 L1552.3,383.6 L1553.5,385.9 L1554.7,384.2 L1555.9,383.7 L1557.1,382.9 L1558.3,385.6 L1559.5,383.7 L1560.7,383.9 L1561.9,385.9 L1563.1,385.5 L1564.3,385.4 L1565.5,385.4 L1566.7,387.1 L1567.9,388.3 L1569.1,385.3 L1570.3,386.5 L1571.5,388.0 L1572.7,387.1 L1573.9,385.2 L1575.1,385.5 L1576.3,385.3 L1577.5,384.9 L1578.7,385.3 L1579.9,386.3 L1581.1,385.6 L1582.3,387.4 L1583.5,386.8 L1584.7,386.4 L1585.9,388.0 L1587.1,387.6 L1588.3,387.7 L1589.5,388.7 L1590.7,388.4 L1591.9,387.9 L1593.1,389.0 L1594.3,388.5 L1595.5,391.2 L1596.7,389.5 L1597.9,389.6 L1599.1,389.8 L1600.3,388.7 L1601.5,390.0 L1602.7,388.9 L1603.9,388.1 L1605.1,388.4 L1606.3,389.5 L1607.5,387.6 L1608.7,389.4 L1609.9,388.0 L1611.1,390.0 L1612.3,388.6 L1613.5,391.2 L1614.7,390.2 L1615.9,388.2 L1617.1,391.1 L1618.3,389.2 L1619.5,388.8 L1620.7,388.5 L1621.9,390.0 L1623.1,390.9 L1624.3,388.9 L1625.5,388.5 L1626.7,388.4 L1627.9,391.1 L1629.1,391.3 L1630.3,389.4 L1631.5,390.6 L1632.7,390.2 L1633.9,390.3 L1635.1,391.4 L1636.3,391.0 L1637.5,391.1 L1638.7,390.6 L1639.9,391.7 L1641.1,390.8 L1642.3,391.2 L1643.5,391.5 L1644.7,390.4 L1645.9,391.2 L1647.1,391.3 L1648.3,391.8 L1649.5,390.2 L1650.7,390.8 L1651.9,393.0 L1653.1,392.6 L1654.3,392.3 L1655.5,393.0 L1656.7,391.9 L1657.9,391.4 L1659.1,391.9 L1660.3,389.9 L1661.5,390.5 L1662.7,392.1 L1663.9,391.5 L1665.1,390.5 L1666.3,392.1 L1667.5,392.4 L1668.7,392.2 L1669.9,391.7 L1671.1,391.1 L1672.3,391.8 L1673.5,392.1 L1674.7,391.6 L1675.9,392.3 L1677.1,392.2 L1678.3,392.2 L1679.5,390.6 L1680.7,392.8 L1681.9,393.3 L1683.1,391.8 L1684.3,391.1 L1685.5,392.6 L1686.7,391.9 L1687.9,391.5 L1689.1,393.0 L1690.3,391.2 L1691.5,392.7 L1692.7,391.3 L1693.9,393.1 L1695.1,392.3 L1696.3,391.6 L1697.5,391.9 L1698.7,392.1 L1699.9,392.2 L1701.1,392.1" fill="none" stroke="#009600" stroke-width="4.0" stroke-linejoin="round" stroke-linecap="butt" shape-rendering="crispEdges"/>
</g>
<g id="alltext">
<text transform="translate(238.9,1188.0) scale(1,1.07)" font-size="46.2" text-anchor="middle">10</text>
<text transform="translate(531.7,1188.0) scale(1,1.07)" font-size="46.2" text-anchor="middle">20</text>
<text transform="translate(824.5,1188.0) scale(1,1.07)" font-size="46.2" text-anchor="middle">30</text>
<text transform="translate(1117.2,1188.0) scale(1,1.07)" font-size="46.2" text-anchor="middle">40</text>
<text transform="translate(1410.0,1188.0) scale(1,1.07)" font-size="46.2" text-anchor="middle">50</text>
<text transform="translate(1702.8,1188.0) scale(1,1.07)" font-size="46.2" text-anchor="middle">60</text>
<text transform="translate(911.0,1274.0) scale(1,1.04)" font-size="52" text-anchor="middle">2 Theta/degree</text>
<text transform="translate(73.5,574.7) rotate(-90) scale(1,1.04)" text-anchor="middle" font-size="52" letter-spacing="0.4">Intensity/a.u.</text>
<text transform="translate(240.4,219.8) scale(1,1.04)" font-size="52" letter-spacing="0.25">rCB<tspan dy="1.54" stroke="#000" stroke-width="4.5">_</tspan><tspan dy="-1.54">2-SA</tspan></text>
<text transform="translate(309.6,444.6) scale(1,1.04)" font-size="52" letter-spacing="0.25">rCB<tspan dy="1.54" stroke="#000" stroke-width="4.5">_</tspan><tspan dy="-1.54">2</tspan></text>
<text transform="translate(240.0,673.5) scale(1,1.04)" font-size="52" letter-spacing="0.25">rCB<tspan dy="1.54" stroke="#000" stroke-width="4.5">_</tspan><tspan dy="-1.54">1-SA</tspan></text>
<text transform="translate(279.0,989.5) scale(1,1.04)" font-size="52" letter-spacing="0.25">rCB<tspan dy="1.54" stroke="#000" stroke-width="4.5">_</tspan><tspan dy="-1.54">1</tspan></text>
<text transform="translate(652.0,71.6) scale(1,1.07)" font-size="42.2">C</text>
<text transform="translate(1188.0,294.3) scale(1,1.07)" font-size="42.2">C</text>
<text transform="translate(675.1,487.0) scale(1,1.07)" font-size="42.2">SiO<tspan font-size="29.5" dx="-1.2" dy="12.71">2</tspan></text>
<text transform="translate(736.5,814.0) scale(1,1.07)" font-size="42.2">ZnS</text>
<text transform="translate(795.3,899.7) scale(1,1.07)" font-size="42.2">CaCO<tspan font-size="29.5" dx="-1.2" dy="12.71">3</tspan></text>
<text transform="translate(502.0,947.2) scale(1,1.07)" font-size="42.2">SiO<tspan font-size="29.5" dx="-1.2" dy="12.71">2</tspan></text>
<text transform="translate(943.7,1065.4) scale(1,1.07)" font-size="42.2">CaCO<tspan font-size="29.5" dx="-1.2" dy="12.71">3</tspan></text>
<text transform="translate(1066.5,1047.5) scale(1,1.07)" font-size="42.2">ZnS</text>
<text transform="translate(1157.5,1038.6) scale(1,1.07)" font-size="42.2">CaCO<tspan font-size="29.5" dx="-1.2" dy="12.71">3</tspan></text>
<text transform="translate(1306.3,886.6) scale(1,1.07)" font-size="42.2">ZnO</text>
<text transform="translate(1306.3,940.8) scale(1,1.07)" font-size="42.2">ZnS</text>
<text transform="translate(1547.7,960.0) scale(1,1.07)" font-size="42.2">ZnO</text>
<text transform="translate(1547.7,1012.8) scale(1,1.07)" font-size="42.2">ZnS</text>
</g>
</svg>
</body></html>
